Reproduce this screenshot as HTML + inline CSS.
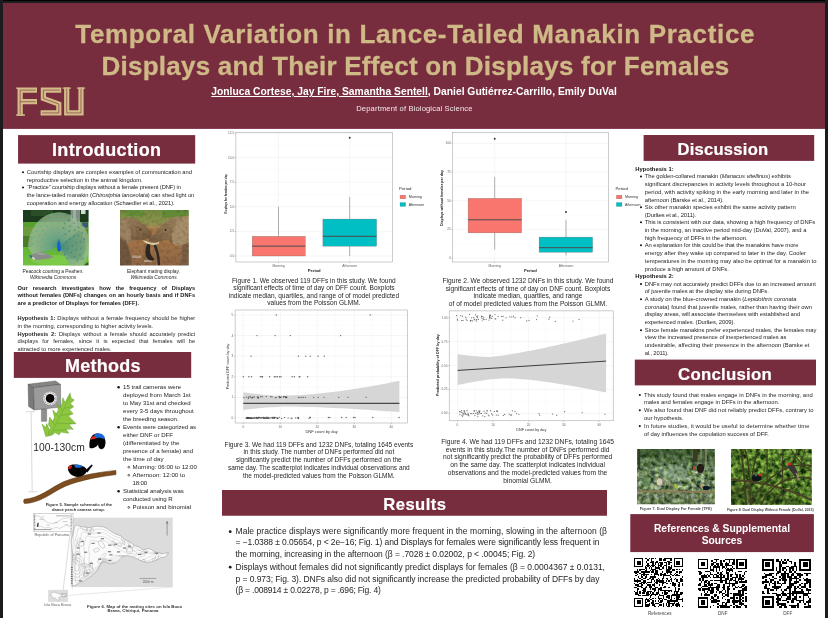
<!DOCTYPE html>
<html><head><meta charset="utf-8"><title>Poster</title>
<style>
html,body{margin:0;padding:0;}
body{width:828px;height:618px;overflow:hidden;background:#fff;font-family:"Liberation Sans",sans-serif;position:relative;}
div{box-sizing:border-box;}
svg{position:absolute;overflow:visible;}
i{font-style:italic;}
b{font-weight:bold;}
</style></head><body><div id="w" style="position:absolute;left:0;top:0;width:828px;height:618px;will-change:transform">
<svg style="left:0;top:0" width="828" height="618" viewBox="0 0 828 618"><rect x="0.00" y="0.00" width="828.00" height="128.90" fill="#782d3f"/><rect x="18.05" y="135.10" width="177.15" height="28.50" fill="#782d3f"/><rect x="13.80" y="352.00" width="177.40" height="25.90" fill="#782d3f"/><rect x="643.60" y="135.00" width="170.60" height="25.90" fill="#782d3f"/><rect x="634.80" y="359.60" width="181.20" height="25.80" fill="#782d3f"/><rect x="222.00" y="490.00" width="385.00" height="25.75" fill="#782d3f"/><rect x="630.30" y="514.10" width="183.60" height="38.00" fill="#782d3f"/><circle cx="23.00" cy="172.20" r="1.05" fill="#1a1a1a"/><circle cx="23.00" cy="187.50" r="1.05" fill="#1a1a1a"/><circle cx="118.60" cy="387.20" r="1.30" fill="#1a1a1a"/><circle cx="118.60" cy="427.20" r="1.30" fill="#1a1a1a"/><circle cx="128.80" cy="467.20" r="0.90" fill="none" stroke="#1a1a1a" stroke-width="0.65"/><circle cx="128.80" cy="475.20" r="0.90" fill="none" stroke="#1a1a1a" stroke-width="0.65"/><circle cx="118.60" cy="491.30" r="1.30" fill="#1a1a1a"/><circle cx="128.80" cy="507.40" r="0.90" fill="none" stroke="#1a1a1a" stroke-width="0.65"/><circle cx="230.20" cy="531.70" r="1.40" fill="#1a1a1a"/><circle cx="230.20" cy="567.20" r="1.40" fill="#1a1a1a"/><circle cx="641.00" cy="176.50" r="1.05" fill="#1a1a1a"/><circle cx="641.00" cy="207.30" r="1.05" fill="#1a1a1a"/><circle cx="641.00" cy="222.20" r="1.05" fill="#1a1a1a"/><circle cx="641.00" cy="245.30" r="1.05" fill="#1a1a1a"/><circle cx="641.00" cy="284.10" r="1.05" fill="#1a1a1a"/><circle cx="641.00" cy="299.20" r="1.05" fill="#1a1a1a"/><circle cx="641.00" cy="330.30" r="1.05" fill="#1a1a1a"/><circle cx="639.80" cy="395.00" r="1.05" fill="#1a1a1a"/><circle cx="639.80" cy="410.30" r="1.05" fill="#1a1a1a"/><circle cx="639.80" cy="426.10" r="1.05" fill="#1a1a1a"/></svg>
<div style="position:absolute;top:19px;font-size:26px;line-height:30px;height:30px;white-space:nowrap;color:#cfb987;letter-spacing:0.657px;font-weight:bold;left:75.30px;-webkit-text-stroke:0.3px #cfb987;">Temporal Variation in Lance-Tailed Manakin Practice</div>
<div style="position:absolute;top:51px;font-size:26px;line-height:30px;height:30px;white-space:nowrap;color:#cfb987;letter-spacing:0.221px;font-weight:bold;left:101.60px;-webkit-text-stroke:0.3px #cfb987;">Displays and Their Effect on Displays for Females</div>
<div style="position:absolute;top:86px;font-size:10.3px;line-height:11px;height:11px;white-space:nowrap;color:#fff;letter-spacing:0.006px;font-weight:bold;left:211.25px;"><span style="text-decoration:underline;text-decoration-thickness:0.8px;text-underline-offset:1.2px">Jonluca Cortese, Jay Fire, Samantha Sentell</span>, Daniel Gutiérrez-Carrillo, Emily DuVal</div>
<div style="position:absolute;top:104px;font-size:7.6px;line-height:9px;height:9px;white-space:nowrap;color:#f3e9ec;letter-spacing:0.139px;left:356.25px;">Department of Biological Science</div>
<svg style="left:16px;top:87px" width="70" height="30" viewBox="0 0 70 30">
<g fill="none" stroke="#d2bc88" stroke-width="5.2" stroke-linejoin="miter" stroke-linecap="butt">
<path d="M4.15 28.7 V3.1 H21 M4.15 14.7 H21"/>
<path d="M45.2 3.1 H27.4 V11.5 L42.8 17 V25.9 H24.6"/>
<path d="M50.7 0.5 V25.9 H65 V0.5"/>
</g>
<g fill="#d2bc88"><path d="M0.2 27.3 H8.9 V28.7 H0.2Z M0.3 0.5 H2 V2 H0.3Z M46.6 0.5 H54.8 V1.8 H46.6Z M60.9 0.5 H69.1 V1.8 H60.9Z"/></g>
<g fill="none" stroke="#8a4048" stroke-width="0.7" stroke-linejoin="miter">
<path d="M4.15 27.6 V3.1 H19.6 M4.15 14.7 H19.6"/>
<path d="M43.8 3.1 H27.4 V11.5 L42.8 17 V25.9 H26"/>
<path d="M50.7 1.6 V25.9 H65 V1.6"/>
</g></svg>
<div style="position:absolute;top:140px;font-size:18px;line-height:20px;height:20px;white-space:nowrap;color:#fff;letter-spacing:0.365px;font-weight:bold;left:52.00px;-webkit-text-stroke:0.2px #fff;">Introduction</div>
<div style="position:absolute;top:356px;font-size:18px;line-height:20px;height:20px;white-space:nowrap;color:#fff;letter-spacing:0.234px;font-weight:bold;left:65.00px;-webkit-text-stroke:0.2px #fff;">Methods</div>
<div style="position:absolute;top:140px;font-size:16.6px;line-height:19px;height:19px;white-space:nowrap;color:#fff;letter-spacing:0.237px;font-weight:bold;left:677.50px;-webkit-text-stroke:0.2px #fff;">Discussion</div>
<div style="position:absolute;top:365px;font-size:16.8px;line-height:19px;height:19px;white-space:nowrap;color:#fff;letter-spacing:0.270px;font-weight:bold;left:678.00px;-webkit-text-stroke:0.2px #fff;">Conclusion</div>
<div style="position:absolute;top:495px;font-size:16.6px;line-height:19px;height:19px;white-space:nowrap;color:#fff;letter-spacing:0.439px;font-weight:bold;left:383.30px;-webkit-text-stroke:0.2px #fff;">Results</div>
<div style="position:absolute;top:523px;font-size:10.3px;line-height:11px;height:11px;white-space:nowrap;color:#fff;font-weight:bold;left:322.00px;width:800px;text-align:center;">References &amp; Supplemental</div>
<div style="position:absolute;top:535px;font-size:10.3px;line-height:11px;height:11px;white-space:nowrap;color:#fff;font-weight:bold;left:322.00px;width:800px;text-align:center;">Sources</div>
<div style="position:absolute;top:169px;font-size:5.8px;line-height:6px;height:6px;white-space:nowrap;color:#1f1f1f;letter-spacing:-0.001px;left:26.80px;">Courtship displays are complex examples of communication and</div>
<div style="position:absolute;top:177px;font-size:5.8px;line-height:6px;height:6px;white-space:nowrap;color:#1f1f1f;letter-spacing:-0.004px;left:26.80px;">reproductive selection in the animal kingdom.</div>
<div style="position:absolute;top:184px;font-size:5.8px;line-height:6px;height:6px;white-space:nowrap;color:#1f1f1f;letter-spacing:-0.106px;left:26.80px;">“Practice” courtship displays without a female present (DNF) in</div>
<div style="position:absolute;top:192px;font-size:5.8px;line-height:6px;height:6px;white-space:nowrap;color:#1f1f1f;letter-spacing:-0.050px;left:26.80px;">the lance-tailed manakin (<i>Chiroxiphia lanceolata</i>) can shed light on</div>
<div style="position:absolute;top:200px;font-size:5.8px;line-height:6px;height:6px;white-space:nowrap;color:#1f1f1f;letter-spacing:-0.045px;left:26.80px;">cooperation and energy allocation (Schaedler et al., 2021).</div>
<div style="position:absolute;top:269px;font-size:4.9px;line-height:5px;height:5px;white-space:nowrap;color:#1f1f1f;left:-347.00px;width:800px;text-align:center;">Peacock courting a Peahen.</div>
<div style="position:absolute;top:275px;font-size:4.9px;line-height:5px;height:5px;white-space:nowrap;color:#1f1f1f;font-style:italic;left:-347.00px;width:800px;text-align:center;">Wikimedia Commons</div>
<div style="position:absolute;top:269px;font-size:4.9px;line-height:5px;height:5px;white-space:nowrap;color:#1f1f1f;left:-246.50px;width:800px;text-align:center;">Elephant mating display.</div>
<div style="position:absolute;top:275px;font-size:4.9px;line-height:5px;height:5px;white-space:nowrap;color:#1f1f1f;font-style:italic;left:-246.50px;width:800px;text-align:center;">Wikimedia Commons</div>
<div style="position:absolute;left:17.60px;top:285px;width:177.60px;font-size:5.7px;line-height:6px;height:6px;white-space:nowrap;color:#151515;font-weight:bold;text-align:justify;text-align-last:justify;white-space:normal;overflow:visible;">Our research investigates how the frequency of Displays</div>
<div style="position:absolute;left:17.60px;top:292px;width:177.60px;font-size:5.7px;line-height:6px;height:6px;white-space:nowrap;color:#151515;font-weight:bold;text-align:justify;text-align-last:justify;white-space:normal;overflow:visible;">without females (DNFs) changes on an hourly basis and if DNFs</div>
<div style="position:absolute;left:17.60px;top:300px;width:177.60px;font-size:5.7px;line-height:6px;height:6px;white-space:nowrap;color:#151515;font-weight:bold;">are a predictor of Displays for females (DFF).</div>
<div style="position:absolute;left:17.60px;top:315px;width:177.60px;font-size:5.7px;line-height:6px;height:6px;white-space:nowrap;color:#1f1f1f;text-align:justify;text-align-last:justify;white-space:normal;overflow:visible;"><b>Hypothesis 1:</b> Displays without a female frequency should be higher</div>
<div style="position:absolute;left:17.60px;top:323px;width:177.60px;font-size:5.7px;line-height:6px;height:6px;white-space:nowrap;color:#1f1f1f;">in the morning, corresponding to higher activity levels.</div>
<div style="position:absolute;left:17.60px;top:331px;width:177.60px;font-size:5.7px;line-height:6px;height:6px;white-space:nowrap;color:#1f1f1f;text-align:justify;text-align-last:justify;white-space:normal;overflow:visible;"><b>Hypothesis 2:</b> Displays without a female should accurately predict</div>
<div style="position:absolute;left:17.60px;top:338px;width:177.60px;font-size:5.7px;line-height:6px;height:6px;white-space:nowrap;color:#1f1f1f;text-align:justify;text-align-last:justify;white-space:normal;overflow:visible;">displays for females, since it is expected that females will be</div>
<div style="position:absolute;left:17.60px;top:346px;width:177.60px;font-size:5.7px;line-height:6px;height:6px;white-space:nowrap;color:#1f1f1f;">attracted to more experienced males.</div>
<div style="position:absolute;top:383px;font-size:6.1px;line-height:7px;height:7px;white-space:nowrap;color:#1f1f1f;letter-spacing:-0.009px;left:123.00px;">15 trail cameras were</div>
<div style="position:absolute;top:391px;font-size:6.1px;line-height:7px;height:7px;white-space:nowrap;color:#1f1f1f;letter-spacing:0.024px;left:123.00px;">deployed from March 1st</div>
<div style="position:absolute;top:399px;font-size:6.1px;line-height:7px;height:7px;white-space:nowrap;color:#1f1f1f;letter-spacing:-0.007px;left:123.00px;">to May 31st and checked</div>
<div style="position:absolute;top:407px;font-size:6.1px;line-height:7px;height:7px;white-space:nowrap;color:#1f1f1f;letter-spacing:-0.008px;left:123.00px;">every 3-5 days throughout</div>
<div style="position:absolute;top:415px;font-size:6.1px;line-height:7px;height:7px;white-space:nowrap;color:#1f1f1f;letter-spacing:-0.071px;left:123.00px;">the breeding season.</div>
<div style="position:absolute;top:423px;font-size:6.1px;line-height:7px;height:7px;white-space:nowrap;color:#1f1f1f;letter-spacing:-0.070px;left:123.00px;">Events were categorized as</div>
<div style="position:absolute;top:431px;font-size:6.1px;line-height:7px;height:7px;white-space:nowrap;color:#1f1f1f;letter-spacing:-0.004px;left:123.00px;">either DNF or DFF</div>
<div style="position:absolute;top:439px;font-size:6.1px;line-height:7px;height:7px;white-space:nowrap;color:#1f1f1f;letter-spacing:0.042px;left:123.00px;">(differentiated by the</div>
<div style="position:absolute;top:447px;font-size:6.1px;line-height:7px;height:7px;white-space:nowrap;color:#1f1f1f;letter-spacing:-0.029px;left:123.00px;">presence of a female) and</div>
<div style="position:absolute;top:455px;font-size:6.1px;line-height:7px;height:7px;white-space:nowrap;color:#1f1f1f;letter-spacing:0.040px;left:123.00px;">the time of day</div>
<div style="position:absolute;top:463px;font-size:6.1px;line-height:7px;height:7px;white-space:nowrap;color:#1f1f1f;letter-spacing:-0.004px;left:132.60px;">Morning: 06:00 to 12:00</div>
<div style="position:absolute;top:471px;font-size:6.1px;line-height:7px;height:7px;white-space:nowrap;color:#1f1f1f;letter-spacing:0.037px;left:132.60px;">Afternoon: 12:00 to</div>
<div style="position:absolute;top:479px;font-size:6.1px;line-height:7px;height:7px;white-space:nowrap;color:#1f1f1f;letter-spacing:-0.150px;left:132.60px;">18:00</div>
<div style="position:absolute;top:487px;font-size:6.1px;line-height:7px;height:7px;white-space:nowrap;color:#1f1f1f;letter-spacing:-0.065px;left:123.00px;">Statistical analysis was</div>
<div style="position:absolute;top:495px;font-size:6.1px;line-height:7px;height:7px;white-space:nowrap;color:#1f1f1f;letter-spacing:-0.058px;left:123.00px;">conducted using R</div>
<div style="position:absolute;top:503px;font-size:6.1px;line-height:7px;height:7px;white-space:nowrap;color:#1f1f1f;letter-spacing:0.031px;left:132.60px;">Poisson and binomial</div>
<div style="position:absolute;top:502px;font-size:4.1px;line-height:5px;height:5px;white-space:nowrap;color:#333;letter-spacing:0.006px;font-weight:bold;left:45.70px;">Figure 5. Sample schematic of the</div>
<div style="position:absolute;top:507px;font-size:4.1px;line-height:5px;height:5px;white-space:nowrap;color:#333;letter-spacing:0.001px;font-weight:bold;left:52.00px;">dance perch camera setup.</div>
<div style="position:absolute;top:604px;font-size:4.3px;line-height:5px;height:5px;white-space:nowrap;color:#333;letter-spacing:0.035px;font-weight:bold;left:87.00px;">Figure 6. Map of the mating sites on Isla Boca</div>
<div style="position:absolute;top:608px;font-size:4.3px;line-height:5px;height:5px;white-space:nowrap;color:#333;letter-spacing:0.070px;font-weight:bold;left:107.50px;">Brava, Chiriqui, Panama</div>
<div style="position:absolute;top:277px;font-size:6.55px;line-height:7px;height:7px;white-space:nowrap;color:#262626;left:-86.10px;width:800px;text-align:center;">Figure 1. We observed 119 DFFs in this study. We found</div>
<div style="position:absolute;top:284px;font-size:6.55px;line-height:7px;height:7px;white-space:nowrap;color:#262626;left:-86.10px;width:800px;text-align:center;">significant effects of time of day on DFF count. Boxplots</div>
<div style="position:absolute;top:292px;font-size:6.55px;line-height:7px;height:7px;white-space:nowrap;color:#262626;left:-86.10px;width:800px;text-align:center;">indicate median, quartiles, and range of of model predicted</div>
<div style="position:absolute;top:299px;font-size:6.55px;line-height:7px;height:7px;white-space:nowrap;color:#262626;left:-86.10px;width:800px;text-align:center;">values from the Poisson GLMM.</div>
<div style="position:absolute;top:277px;font-size:6.65px;line-height:7px;height:7px;white-space:nowrap;color:#262626;left:128.00px;width:800px;text-align:center;">Figure 2. We observed 1232 DNFs in this study. We found</div>
<div style="position:absolute;top:285px;font-size:6.65px;line-height:7px;height:7px;white-space:nowrap;color:#262626;left:128.00px;width:800px;text-align:center;">significant effects of time of day on DNF count. Boxplots</div>
<div style="position:absolute;top:292px;font-size:6.65px;line-height:7px;height:7px;white-space:nowrap;color:#262626;left:128.00px;width:800px;text-align:center;">indicate median, quartiles, and range</div>
<div style="position:absolute;top:300px;font-size:6.65px;line-height:7px;height:7px;white-space:nowrap;color:#262626;left:128.00px;width:800px;text-align:center;">of of model predicted values from the Poisson GLMM.</div>
<div style="position:absolute;top:441px;font-size:6.5px;line-height:7px;height:7px;white-space:nowrap;color:#262626;left:-81.20px;width:800px;text-align:center;">Figure 3. We had 119 DFFs and 1232 DNFs, totaling 1645 events</div>
<div style="position:absolute;top:448px;font-size:6.5px;line-height:7px;height:7px;white-space:nowrap;color:#262626;left:-81.20px;width:800px;text-align:center;">in this study. The number of DNFs performed did not</div>
<div style="position:absolute;top:456px;font-size:6.5px;line-height:7px;height:7px;white-space:nowrap;color:#262626;left:-81.20px;width:800px;text-align:center;">significantly predict the number of DFFs performed on the</div>
<div style="position:absolute;top:464px;font-size:6.5px;line-height:7px;height:7px;white-space:nowrap;color:#262626;left:-81.20px;width:800px;text-align:center;">same day. The scatterplot indicates individual observations and</div>
<div style="position:absolute;top:472px;font-size:6.5px;line-height:7px;height:7px;white-space:nowrap;color:#262626;left:-81.20px;width:800px;text-align:center;">the model-predicted values from the Poisson GLMM.</div>
<div style="position:absolute;top:438px;font-size:6.7px;line-height:7px;height:7px;white-space:nowrap;color:#262626;left:127.60px;width:800px;text-align:center;">Figure 4. We had 119 DFFs and 1232 DNFs, totaling 1645</div>
<div style="position:absolute;top:446px;font-size:6.7px;line-height:7px;height:7px;white-space:nowrap;color:#262626;left:127.60px;width:800px;text-align:center;">events in this study.The number of DNFs performed did</div>
<div style="position:absolute;top:453px;font-size:6.7px;line-height:7px;height:7px;white-space:nowrap;color:#262626;left:127.60px;width:800px;text-align:center;">not significantly predict the probability of DFFs performed</div>
<div style="position:absolute;top:461px;font-size:6.7px;line-height:7px;height:7px;white-space:nowrap;color:#262626;left:127.60px;width:800px;text-align:center;">on the same day. The scatterplot indicates individual</div>
<div style="position:absolute;top:469px;font-size:6.7px;line-height:7px;height:7px;white-space:nowrap;color:#262626;left:127.60px;width:800px;text-align:center;">observations and the model-predicted values from the</div>
<div style="position:absolute;top:477px;font-size:6.7px;line-height:7px;height:7px;white-space:nowrap;color:#262626;left:127.60px;width:800px;text-align:center;">binomial GLMM.</div>
<div style="position:absolute;top:526px;font-size:8.5px;line-height:10px;height:10px;white-space:nowrap;color:#1f1f1f;letter-spacing:0.048px;left:235.50px;">Male practice displays were significantly more frequent in the morning, slowing in the afternoon (β</div>
<div style="position:absolute;top:537px;font-size:8.5px;line-height:10px;height:10px;white-space:nowrap;color:#1f1f1f;letter-spacing:-0.088px;left:235.50px;">= −1.0388 ± 0.05654, p &lt; 2e−16; Fig. 1) and Displays for females were significantly less frequent in</div>
<div style="position:absolute;top:549px;font-size:8.5px;line-height:10px;height:10px;white-space:nowrap;color:#1f1f1f;letter-spacing:-0.064px;left:235.50px;">the morning, increasing in the afternoon (β = .7028 ± 0.02002, p &lt; .00045; Fig. 2)</div>
<div style="position:absolute;top:562px;font-size:8.5px;line-height:10px;height:10px;white-space:nowrap;color:#1f1f1f;letter-spacing:-0.013px;left:235.50px;">Displays without females did not significantly predict displays for females (β = 0.0004367 ± 0.0131,</div>
<div style="position:absolute;top:574px;font-size:8.5px;line-height:10px;height:10px;white-space:nowrap;color:#1f1f1f;letter-spacing:-0.062px;left:235.50px;">p = 0.973; Fig. 3). DNFs also did not significantly increase the predicted probability of DFFs by day</div>
<div style="position:absolute;top:585px;font-size:8.5px;line-height:10px;height:10px;white-space:nowrap;color:#1f1f1f;letter-spacing:-0.187px;left:235.50px;">(β = .008914 ± 0.02278, p = .696; Fig. 4)</div>
<div style="position:absolute;top:166px;font-size:5.85px;line-height:6px;height:6px;white-space:nowrap;color:#111;font-weight:bold;left:635.30px;">Hypothesis 1:</div>
<div style="position:absolute;top:173px;font-size:5.85px;line-height:6px;height:6px;white-space:nowrap;color:#1f1f1f;letter-spacing:-0.071px;left:644.80px;">The golden-collared manakin (<i>Manacus vitellinus</i>) exhibits</div>
<div style="position:absolute;top:181px;font-size:5.85px;line-height:6px;height:6px;white-space:nowrap;color:#1f1f1f;letter-spacing:-0.010px;left:644.80px;">significant discrepancies in activity levels throughout a 10-hour</div>
<div style="position:absolute;top:189px;font-size:5.85px;line-height:6px;height:6px;white-space:nowrap;color:#1f1f1f;letter-spacing:0.026px;left:644.80px;">period, with activity spiking in the early morning and later in the</div>
<div style="position:absolute;top:197px;font-size:5.85px;line-height:6px;height:6px;white-space:nowrap;color:#1f1f1f;letter-spacing:-0.052px;left:644.80px;">afternoon (Barske et al., 2014).</div>
<div style="position:absolute;top:204px;font-size:5.85px;line-height:6px;height:6px;white-space:nowrap;color:#1f1f1f;letter-spacing:-0.014px;left:644.80px;">Six other manakin species exhibit the same activity pattern</div>
<div style="position:absolute;top:212px;font-size:5.85px;line-height:6px;height:6px;white-space:nowrap;color:#1f1f1f;letter-spacing:-0.147px;left:644.80px;">(Durães et al., 2011).</div>
<div style="position:absolute;top:219px;font-size:5.85px;line-height:6px;height:6px;white-space:nowrap;color:#1f1f1f;letter-spacing:-0.032px;left:644.80px;">This is consistent with our data, showing a high frequency of DNFs</div>
<div style="position:absolute;top:227px;font-size:5.85px;line-height:6px;height:6px;white-space:nowrap;color:#1f1f1f;letter-spacing:-0.032px;left:644.80px;">in the morning, an inactive period mid-day (DuVal, 2007), and a</div>
<div style="position:absolute;top:235px;font-size:5.85px;line-height:6px;height:6px;white-space:nowrap;color:#1f1f1f;letter-spacing:-0.048px;left:644.80px;">high frequency of DFFs in the afternoon.</div>
<div style="position:absolute;top:242px;font-size:5.85px;line-height:6px;height:6px;white-space:nowrap;color:#1f1f1f;letter-spacing:-0.083px;left:644.80px;">An explanation for this could be that the manakins have more</div>
<div style="position:absolute;top:250px;font-size:5.85px;line-height:6px;height:6px;white-space:nowrap;color:#1f1f1f;letter-spacing:-0.003px;left:644.80px;">energy after they wake up compared to later in the day. Cooler</div>
<div style="position:absolute;top:258px;font-size:5.85px;line-height:6px;height:6px;white-space:nowrap;color:#1f1f1f;letter-spacing:0.023px;left:644.80px;">temperatures in the morning may also be optimal for a manakin to</div>
<div style="position:absolute;top:266px;font-size:5.85px;line-height:6px;height:6px;white-space:nowrap;color:#1f1f1f;letter-spacing:-0.017px;left:644.80px;">produce a high amount of DNFs.</div>
<div style="position:absolute;top:273px;font-size:5.85px;line-height:6px;height:6px;white-space:nowrap;color:#111;font-weight:bold;left:635.30px;">Hypothesis 2:</div>
<div style="position:absolute;top:281px;font-size:5.85px;line-height:6px;height:6px;white-space:nowrap;color:#1f1f1f;letter-spacing:-0.058px;left:644.80px;">DNFs may not accurately predict DFFs due to an increased amount</div>
<div style="position:absolute;top:288px;font-size:5.85px;line-height:6px;height:6px;white-space:nowrap;color:#1f1f1f;letter-spacing:-0.047px;left:644.80px;">of juvenile males at the display site during DNFs.</div>
<div style="position:absolute;top:296px;font-size:5.85px;line-height:6px;height:6px;white-space:nowrap;color:#1f1f1f;letter-spacing:-0.042px;left:644.80px;">A study on the blue-crowned manakin (<i>Lepidothrix coronata</i></div>
<div style="position:absolute;top:304px;font-size:5.85px;line-height:6px;height:6px;white-space:nowrap;color:#1f1f1f;letter-spacing:0.008px;left:644.80px;"><i>coronata</i>) found that juvenile males, rather than having their own</div>
<div style="position:absolute;top:311px;font-size:5.85px;line-height:6px;height:6px;white-space:nowrap;color:#1f1f1f;letter-spacing:-0.042px;left:644.80px;">display areas, will associate themselves with established and</div>
<div style="position:absolute;top:319px;font-size:5.85px;line-height:6px;height:6px;white-space:nowrap;color:#1f1f1f;letter-spacing:-0.081px;left:644.80px;">experienced males. (Durães, 2009).</div>
<div style="position:absolute;top:327px;font-size:5.85px;line-height:6px;height:6px;white-space:nowrap;color:#1f1f1f;letter-spacing:-0.039px;left:644.80px;">Since female manakins prefer experienced males, the females may</div>
<div style="position:absolute;top:334px;font-size:5.85px;line-height:6px;height:6px;white-space:nowrap;color:#1f1f1f;letter-spacing:-0.038px;left:644.80px;">view the increased presence of inexperienced males as</div>
<div style="position:absolute;top:342px;font-size:5.85px;line-height:6px;height:6px;white-space:nowrap;color:#1f1f1f;letter-spacing:0.001px;left:644.80px;">undesirable, affecting their presence in the afternoon (Barske et</div>
<div style="position:absolute;top:350px;font-size:5.85px;line-height:6px;height:6px;white-space:nowrap;color:#1f1f1f;letter-spacing:-0.175px;left:644.80px;">al., 2011).</div>
<div style="position:absolute;top:392px;font-size:5.85px;line-height:6px;height:6px;white-space:nowrap;color:#1f1f1f;letter-spacing:0.028px;left:644.00px;">This study found that males engage in DNFs in the morning, and</div>
<div style="position:absolute;top:399px;font-size:5.85px;line-height:6px;height:6px;white-space:nowrap;color:#1f1f1f;letter-spacing:-0.016px;left:644.00px;">males and females engage in DFFs in the afternoon.</div>
<div style="position:absolute;top:407px;font-size:5.85px;line-height:6px;height:6px;white-space:nowrap;color:#1f1f1f;letter-spacing:0.030px;left:644.00px;">We also found that DNF did not reliably predict DFFs, contrary to</div>
<div style="position:absolute;top:415px;font-size:5.85px;line-height:6px;height:6px;white-space:nowrap;color:#1f1f1f;letter-spacing:-0.003px;left:644.00px;">our hypothesis.</div>
<div style="position:absolute;top:423px;font-size:5.85px;line-height:6px;height:6px;white-space:nowrap;color:#1f1f1f;letter-spacing:0.101px;left:644.00px;">In future studies, it would be useful to determine whether time</div>
<div style="position:absolute;top:431px;font-size:5.85px;line-height:6px;height:6px;white-space:nowrap;color:#1f1f1f;letter-spacing:-0.006px;left:644.00px;">of day influences the copulation success of DFF.</div>
<div style="position:absolute;top:507px;font-size:3.8px;line-height:4px;height:4px;white-space:nowrap;color:#4a4a4a;letter-spacing:0.005px;font-weight:bold;left:639.80px;">Figure 7. Dual Display For Female (TFE)</div>
<div style="position:absolute;top:508px;font-size:3.5px;line-height:4px;height:4px;white-space:nowrap;color:#4a4a4a;letter-spacing:0.010px;font-weight:bold;left:726.90px;">Figure 8. Dual Display Without Female  (DuVal, 2013)</div>
<div style="position:absolute;top:611px;font-size:4.6px;line-height:5px;height:5px;white-space:nowrap;color:#444;left:259.75px;width:800px;text-align:center;">References</div>
<div style="position:absolute;top:611px;font-size:4.6px;line-height:5px;height:5px;white-space:nowrap;color:#444;left:322.75px;width:800px;text-align:center;">DNF</div>
<div style="position:absolute;top:611px;font-size:4.6px;line-height:5px;height:5px;white-space:nowrap;color:#444;left:387.75px;width:800px;text-align:center;">DFF</div>
<svg style="left:0;top:0" width="828" height="618" viewBox="0 0 828 618" font-family="Liberation Sans, sans-serif"><rect x="235.9" y="132.5" width="156.70" height="129.50" fill="#fff"/><line x1="235.9" x2="392.6" y1="243.69" y2="243.69" stroke="#f3f3f3" stroke-width="0.3"/><line x1="235.9" x2="392.6" y1="219.07" y2="219.07" stroke="#f3f3f3" stroke-width="0.3"/><line x1="235.9" x2="392.6" y1="194.45" y2="194.45" stroke="#f3f3f3" stroke-width="0.3"/><line x1="235.9" x2="392.6" y1="169.83" y2="169.83" stroke="#f3f3f3" stroke-width="0.3"/><line x1="235.9" x2="392.6" y1="145.21" y2="145.21" stroke="#f3f3f3" stroke-width="0.3"/><line x1="235.9" x2="392.6" y1="256.00" y2="256.00" stroke="#ebebeb" stroke-width="0.45"/><line x1="235.9" x2="392.6" y1="231.38" y2="231.38" stroke="#ebebeb" stroke-width="0.45"/><line x1="235.9" x2="392.6" y1="206.76" y2="206.76" stroke="#ebebeb" stroke-width="0.45"/><line x1="235.9" x2="392.6" y1="182.14" y2="182.14" stroke="#ebebeb" stroke-width="0.45"/><line x1="235.9" x2="392.6" y1="157.52" y2="157.52" stroke="#ebebeb" stroke-width="0.45"/><line x1="235.9" x2="392.6" y1="132.90" y2="132.90" stroke="#ebebeb" stroke-width="0.45"/><line y1="132.5" y2="262" x1="278.50" x2="278.50" stroke="#ebebeb" stroke-width="0.45"/><line y1="132.5" y2="262" x1="349.70" x2="349.70" stroke="#ebebeb" stroke-width="0.45"/><line x1="278.50" x2="278.50" y1="206.76" y2="256.00" stroke="#555" stroke-width="0.45"/><rect x="252.20" y="236.30" width="53.10" height="19.70" fill="#f8766d" stroke="#6a6a6a" stroke-width="0.3"/><line x1="252.20" x2="305.30" y1="246.15" y2="246.15" stroke="#4a4a4a" stroke-width="1"/><line x1="349.70" x2="349.70" y1="196.91" y2="256.00" stroke="#555" stroke-width="0.45"/><rect x="322.90" y="219.07" width="53.70" height="27.08" fill="#00bfc4" stroke="#6a6a6a" stroke-width="0.3"/><line x1="322.90" x2="376.60" y1="236.30" y2="236.30" stroke="#4a4a4a" stroke-width="1"/><circle cx="349.70" cy="137.80" r="0.95" fill="#2a2a2a"/><rect x="235.9" y="132.5" width="156.70" height="129.50" fill="none" stroke="#9a9a9a" stroke-width="0.5"/><line x1="234.80" x2="235.90" y1="256.00" y2="256.00" stroke="#777" stroke-width="0.35"/><line x1="234.80" x2="235.90" y1="231.38" y2="231.38" stroke="#777" stroke-width="0.35"/><line x1="234.80" x2="235.90" y1="206.76" y2="206.76" stroke="#777" stroke-width="0.35"/><line x1="234.80" x2="235.90" y1="182.14" y2="182.14" stroke="#777" stroke-width="0.35"/><line x1="234.80" x2="235.90" y1="157.52" y2="157.52" stroke="#777" stroke-width="0.35"/><line x1="234.80" x2="235.90" y1="132.90" y2="132.90" stroke="#777" stroke-width="0.35"/><line x1="278.50" x2="278.50" y1="262.00" y2="263.10" stroke="#777" stroke-width="0.35"/><line x1="349.70" x2="349.70" y1="262.00" y2="263.10" stroke="#777" stroke-width="0.35"/><text x="234.20" y="257.00" font-size="3.2" text-anchor="end" fill="#666">0.0</text><text x="234.20" y="232.38" font-size="3.2" text-anchor="end" fill="#666">2.5</text><text x="234.20" y="207.76" font-size="3.2" text-anchor="end" fill="#666">5.0</text><text x="234.20" y="183.14" font-size="3.2" text-anchor="end" fill="#666">7.5</text><text x="234.20" y="158.52" font-size="3.2" text-anchor="end" fill="#666">10.0</text><text x="234.20" y="133.90" font-size="3.2" text-anchor="end" fill="#666">12.5</text><text x="278.50" y="267.10" font-size="3.4" text-anchor="middle" fill="#666">Morning</text><text x="349.70" y="267.10" font-size="3.4" text-anchor="middle" fill="#666">Afternoon</text><text x="314.20" y="272.30" font-size="4.18" text-anchor="middle" fill="#222" font-weight="bold">Period</text><text x="227.00" y="194.00" font-size="2.95" text-anchor="middle" fill="#222" font-weight="bold" transform="rotate(-90 227.00 194.00)">Displays for females per day</text><text x="399.10" y="190.10" font-size="4.3" text-anchor="start" fill="#2a2a2a">Period</text><rect x="400.00" y="195.10" width="5.7" height="3.8" fill="#f8766d" stroke="#777" stroke-width="0.2"/><rect x="400.00" y="202.50" width="5.7" height="4.0" fill="#00bfc4" stroke="#777" stroke-width="0.2"/><text x="408.70" y="198.20" font-size="3.6" text-anchor="start" fill="#333">Morning</text><text x="408.70" y="205.70" font-size="3.6" text-anchor="start" fill="#333">Afternoon</text><rect x="452.6" y="132.5" width="156.00" height="129.50" fill="#fff"/><line x1="452.6" x2="608.6" y1="243.84" y2="243.84" stroke="#f3f3f3" stroke-width="0.3"/><line x1="452.6" x2="608.6" y1="215.12" y2="215.12" stroke="#f3f3f3" stroke-width="0.3"/><line x1="452.6" x2="608.6" y1="186.40" y2="186.40" stroke="#f3f3f3" stroke-width="0.3"/><line x1="452.6" x2="608.6" y1="157.68" y2="157.68" stroke="#f3f3f3" stroke-width="0.3"/><line x1="452.6" x2="608.6" y1="258.20" y2="258.20" stroke="#ebebeb" stroke-width="0.45"/><line x1="452.6" x2="608.6" y1="229.48" y2="229.48" stroke="#ebebeb" stroke-width="0.45"/><line x1="452.6" x2="608.6" y1="200.76" y2="200.76" stroke="#ebebeb" stroke-width="0.45"/><line x1="452.6" x2="608.6" y1="172.04" y2="172.04" stroke="#ebebeb" stroke-width="0.45"/><line x1="452.6" x2="608.6" y1="143.32" y2="143.32" stroke="#ebebeb" stroke-width="0.45"/><line y1="132.5" y2="262" x1="494.70" x2="494.70" stroke="#ebebeb" stroke-width="0.45"/><line y1="132.5" y2="262" x1="566.00" x2="566.00" stroke="#ebebeb" stroke-width="0.45"/><line x1="494.70" x2="494.70" y1="176.90" y2="249.70" stroke="#555" stroke-width="0.45"/><rect x="468.10" y="198.30" width="53.50" height="34.60" fill="#f8766d" stroke="#6a6a6a" stroke-width="0.3"/><line x1="468.10" x2="521.60" y1="219.80" y2="219.80" stroke="#4a4a4a" stroke-width="1"/><circle cx="494.70" cy="138.80" r="0.95" fill="#2a2a2a"/><line x1="566.00" x2="566.00" y1="219.80" y2="255.50" stroke="#555" stroke-width="0.45"/><rect x="539.10" y="237.10" width="53.50" height="15.10" fill="#00bfc4" stroke="#6a6a6a" stroke-width="0.3"/><line x1="539.10" x2="592.60" y1="247.70" y2="247.70" stroke="#4a4a4a" stroke-width="1"/><circle cx="566.00" cy="212.00" r="0.95" fill="#2a2a2a"/><rect x="452.6" y="132.5" width="156.00" height="129.50" fill="none" stroke="#9a9a9a" stroke-width="0.5"/><line x1="451.50" x2="452.60" y1="258.20" y2="258.20" stroke="#777" stroke-width="0.35"/><line x1="451.50" x2="452.60" y1="229.48" y2="229.48" stroke="#777" stroke-width="0.35"/><line x1="451.50" x2="452.60" y1="200.76" y2="200.76" stroke="#777" stroke-width="0.35"/><line x1="451.50" x2="452.60" y1="172.04" y2="172.04" stroke="#777" stroke-width="0.35"/><line x1="451.50" x2="452.60" y1="143.32" y2="143.32" stroke="#777" stroke-width="0.35"/><line x1="494.70" x2="494.70" y1="262.00" y2="263.10" stroke="#777" stroke-width="0.35"/><line x1="566.00" x2="566.00" y1="262.00" y2="263.10" stroke="#777" stroke-width="0.35"/><text x="450.80" y="259.20" font-size="3.2" text-anchor="end" fill="#666">0</text><text x="450.80" y="230.48" font-size="3.2" text-anchor="end" fill="#666">25</text><text x="450.80" y="201.76" font-size="3.2" text-anchor="end" fill="#666">50</text><text x="450.80" y="173.04" font-size="3.2" text-anchor="end" fill="#666">75</text><text x="450.80" y="144.32" font-size="3.2" text-anchor="end" fill="#666">100</text><text x="494.70" y="267.10" font-size="3.4" text-anchor="middle" fill="#666">Morning</text><text x="566.00" y="267.10" font-size="3.4" text-anchor="middle" fill="#666">Afternoon</text><text x="530.40" y="271.90" font-size="4.18" text-anchor="middle" fill="#222" font-weight="bold">Period</text><text x="442.60" y="198.00" font-size="3.55" text-anchor="middle" fill="#222" font-weight="bold" transform="rotate(-90 442.60 198.00)">Displays without females per day</text><text x="615.40" y="190.10" font-size="4.3" text-anchor="start" fill="#2a2a2a">Period</text><rect x="616.30" y="195.10" width="5.7" height="3.8" fill="#f8766d" stroke="#777" stroke-width="0.2"/><rect x="616.30" y="202.50" width="5.7" height="4.0" fill="#00bfc4" stroke="#777" stroke-width="0.2"/><text x="625.00" y="198.20" font-size="3.6" text-anchor="start" fill="#333">Morning</text><text x="625.00" y="205.70" font-size="3.6" text-anchor="start" fill="#333">Afternoon</text><rect x="235.1" y="310" width="172.60" height="113.00" fill="#fff"/><line x1="235.1" x2="407.7" y1="407.61" y2="407.61" stroke="#f3f3f3" stroke-width="0.3"/><line x1="235.1" x2="407.7" y1="387.03" y2="387.03" stroke="#f3f3f3" stroke-width="0.3"/><line x1="235.1" x2="407.7" y1="366.45" y2="366.45" stroke="#f3f3f3" stroke-width="0.3"/><line x1="235.1" x2="407.7" y1="345.87" y2="345.87" stroke="#f3f3f3" stroke-width="0.3"/><line x1="235.1" x2="407.7" y1="325.29" y2="325.29" stroke="#f3f3f3" stroke-width="0.3"/><line y1="310" y2="423" x1="261.80" x2="261.80" stroke="#f3f3f3" stroke-width="0.3"/><line y1="310" y2="423" x1="298.80" x2="298.80" stroke="#f3f3f3" stroke-width="0.3"/><line y1="310" y2="423" x1="335.80" x2="335.80" stroke="#f3f3f3" stroke-width="0.3"/><line y1="310" y2="423" x1="372.80" x2="372.80" stroke="#f3f3f3" stroke-width="0.3"/><line x1="235.1" x2="407.7" y1="417.90" y2="417.90" stroke="#ebebeb" stroke-width="0.45"/><line x1="235.1" x2="407.7" y1="397.32" y2="397.32" stroke="#ebebeb" stroke-width="0.45"/><line x1="235.1" x2="407.7" y1="376.74" y2="376.74" stroke="#ebebeb" stroke-width="0.45"/><line x1="235.1" x2="407.7" y1="356.16" y2="356.16" stroke="#ebebeb" stroke-width="0.45"/><line x1="235.1" x2="407.7" y1="335.58" y2="335.58" stroke="#ebebeb" stroke-width="0.45"/><line x1="235.1" x2="407.7" y1="315.00" y2="315.00" stroke="#ebebeb" stroke-width="0.45"/><line y1="310" y2="423" x1="243.30" x2="243.30" stroke="#ebebeb" stroke-width="0.45"/><line y1="310" y2="423" x1="280.30" x2="280.30" stroke="#ebebeb" stroke-width="0.45"/><line y1="310" y2="423" x1="317.30" x2="317.30" stroke="#ebebeb" stroke-width="0.45"/><line y1="310" y2="423" x1="354.30" x2="354.30" stroke="#ebebeb" stroke-width="0.45"/><line y1="310" y2="423" x1="391.30" x2="391.30" stroke="#ebebeb" stroke-width="0.45"/><path d="M243.30 392.30 L249.80 393.22 L256.31 394.06 L262.81 394.78 L269.32 395.32 L275.82 395.63 L282.32 395.69 L288.83 395.54 L295.33 395.28 L301.84 394.91 L308.34 394.44 L314.85 393.90 L321.35 393.28 L327.85 392.58 L334.36 391.81 L340.86 390.98 L347.37 390.08 L353.87 389.11 L360.38 388.09 L366.88 387.00 L373.38 385.85 L379.89 384.65 L386.39 383.39 L392.90 382.07 L399.40 380.70 L399.40 412.10 L392.90 411.61 L386.39 411.13 L379.89 410.67 L373.38 410.22 L366.88 409.80 L360.38 409.39 L353.87 408.99 L347.37 408.62 L340.86 408.27 L334.36 407.94 L327.85 407.64 L321.35 407.36 L314.85 407.10 L308.34 406.88 L301.84 406.70 L295.33 406.56 L288.83 406.50 L282.32 406.62 L275.82 406.88 L269.32 407.30 L262.81 407.83 L256.31 408.46 L249.80 409.16 L243.30 409.90Z" fill="#d2d2d2" fill-opacity="0.92"/><line x1="243.3" x2="399.4" y1="403.4" y2="403.4" stroke="#474747" stroke-width="1.25"/><circle cx="256.68" cy="418.33" r="0.68" fill="#444" fill-opacity="0.8"/><circle cx="267.21" cy="418.43" r="0.68" fill="#444" fill-opacity="0.8"/><circle cx="263.51" cy="418.07" r="0.68" fill="#444" fill-opacity="0.8"/><circle cx="248.13" cy="417.89" r="0.68" fill="#444" fill-opacity="0.8"/><circle cx="247.47" cy="417.98" r="0.68" fill="#444" fill-opacity="0.8"/><circle cx="248.51" cy="418.41" r="0.68" fill="#444" fill-opacity="0.8"/><circle cx="259.93" cy="417.50" r="0.68" fill="#444" fill-opacity="0.8"/><circle cx="250.25" cy="418.24" r="0.68" fill="#444" fill-opacity="0.8"/><circle cx="266.46" cy="417.35" r="0.68" fill="#444" fill-opacity="0.8"/><circle cx="264.84" cy="418.03" r="0.68" fill="#444" fill-opacity="0.8"/><circle cx="277.69" cy="418.46" r="0.68" fill="#444" fill-opacity="0.8"/><circle cx="273.89" cy="418.16" r="0.68" fill="#444" fill-opacity="0.8"/><circle cx="250.90" cy="418.37" r="0.68" fill="#444" fill-opacity="0.8"/><circle cx="256.19" cy="417.51" r="0.68" fill="#444" fill-opacity="0.8"/><circle cx="252.08" cy="417.80" r="0.68" fill="#444" fill-opacity="0.8"/><circle cx="266.83" cy="418.06" r="0.68" fill="#444" fill-opacity="0.8"/><circle cx="263.89" cy="418.44" r="0.68" fill="#444" fill-opacity="0.8"/><circle cx="248.18" cy="418.26" r="0.68" fill="#444" fill-opacity="0.8"/><circle cx="268.16" cy="417.99" r="0.68" fill="#444" fill-opacity="0.8"/><circle cx="256.37" cy="417.79" r="0.68" fill="#444" fill-opacity="0.8"/><circle cx="260.85" cy="418.15" r="0.68" fill="#444" fill-opacity="0.8"/><circle cx="271.83" cy="417.65" r="0.68" fill="#444" fill-opacity="0.8"/><circle cx="254.12" cy="417.81" r="0.68" fill="#444" fill-opacity="0.8"/><circle cx="263.17" cy="417.44" r="0.68" fill="#444" fill-opacity="0.8"/><circle cx="269.74" cy="418.16" r="0.68" fill="#444" fill-opacity="0.8"/><circle cx="277.81" cy="418.37" r="0.68" fill="#444" fill-opacity="0.8"/><circle cx="259.72" cy="417.58" r="0.68" fill="#444" fill-opacity="0.8"/><circle cx="251.15" cy="417.91" r="0.68" fill="#444" fill-opacity="0.8"/><circle cx="247.52" cy="417.69" r="0.68" fill="#444" fill-opacity="0.8"/><circle cx="270.87" cy="417.81" r="0.68" fill="#444" fill-opacity="0.8"/><circle cx="274.44" cy="418.13" r="0.68" fill="#444" fill-opacity="0.8"/><circle cx="268.64" cy="417.78" r="0.68" fill="#444" fill-opacity="0.8"/><circle cx="264.93" cy="417.95" r="0.68" fill="#444" fill-opacity="0.8"/><circle cx="273.30" cy="417.35" r="0.68" fill="#444" fill-opacity="0.8"/><circle cx="261.52" cy="417.70" r="0.68" fill="#444" fill-opacity="0.8"/><circle cx="248.21" cy="417.65" r="0.68" fill="#444" fill-opacity="0.8"/><circle cx="267.09" cy="417.29" r="0.68" fill="#444" fill-opacity="0.8"/><circle cx="272.72" cy="418.17" r="0.68" fill="#444" fill-opacity="0.8"/><circle cx="258.68" cy="417.69" r="0.68" fill="#444" fill-opacity="0.8"/><circle cx="246.99" cy="417.95" r="0.68" fill="#444" fill-opacity="0.8"/><circle cx="251.67" cy="418.37" r="0.68" fill="#444" fill-opacity="0.8"/><circle cx="248.16" cy="417.57" r="0.68" fill="#444" fill-opacity="0.8"/><circle cx="250.42" cy="418.21" r="0.68" fill="#444" fill-opacity="0.8"/><circle cx="258.84" cy="417.44" r="0.68" fill="#444" fill-opacity="0.8"/><circle cx="248.85" cy="417.96" r="0.68" fill="#444" fill-opacity="0.8"/><circle cx="263.95" cy="417.43" r="0.68" fill="#444" fill-opacity="0.8"/><circle cx="272.63" cy="417.45" r="0.68" fill="#444" fill-opacity="0.8"/><circle cx="255.22" cy="418.00" r="0.68" fill="#444" fill-opacity="0.8"/><circle cx="257.81" cy="417.43" r="0.68" fill="#444" fill-opacity="0.8"/><circle cx="277.09" cy="418.33" r="0.68" fill="#444" fill-opacity="0.8"/><circle cx="251.93" cy="418.23" r="0.68" fill="#444" fill-opacity="0.8"/><circle cx="253.77" cy="417.92" r="0.68" fill="#444" fill-opacity="0.8"/><circle cx="265.22" cy="418.19" r="0.68" fill="#444" fill-opacity="0.8"/><circle cx="246.39" cy="418.00" r="0.68" fill="#444" fill-opacity="0.8"/><circle cx="258.15" cy="417.82" r="0.68" fill="#444" fill-opacity="0.8"/><circle cx="276.94" cy="417.66" r="0.68" fill="#444" fill-opacity="0.8"/><circle cx="262.85" cy="417.75" r="0.68" fill="#444" fill-opacity="0.8"/><circle cx="268.03" cy="418.45" r="0.68" fill="#444" fill-opacity="0.8"/><circle cx="275.22" cy="417.55" r="0.68" fill="#444" fill-opacity="0.8"/><circle cx="274.41" cy="417.53" r="0.68" fill="#444" fill-opacity="0.8"/><circle cx="258.89" cy="418.02" r="0.68" fill="#444" fill-opacity="0.8"/><circle cx="249.59" cy="417.73" r="0.68" fill="#444" fill-opacity="0.8"/><circle cx="248.26" cy="418.43" r="0.68" fill="#444" fill-opacity="0.8"/><circle cx="252.98" cy="418.32" r="0.68" fill="#444" fill-opacity="0.8"/><circle cx="257.21" cy="418.45" r="0.68" fill="#444" fill-opacity="0.8"/><circle cx="246.27" cy="418.33" r="0.68" fill="#444" fill-opacity="0.8"/><circle cx="249.53" cy="418.07" r="0.68" fill="#444" fill-opacity="0.8"/><circle cx="247.08" cy="417.44" r="0.68" fill="#444" fill-opacity="0.8"/><circle cx="266.03" cy="418.33" r="0.68" fill="#444" fill-opacity="0.8"/><circle cx="254.38" cy="418.09" r="0.68" fill="#444" fill-opacity="0.8"/><circle cx="291.92" cy="418.37" r="0.68" fill="#444" fill-opacity="0.8"/><circle cx="309.86" cy="417.29" r="0.68" fill="#444" fill-opacity="0.8"/><circle cx="295.69" cy="417.92" r="0.68" fill="#444" fill-opacity="0.8"/><circle cx="281.63" cy="418.39" r="0.68" fill="#444" fill-opacity="0.8"/><circle cx="291.13" cy="418.19" r="0.68" fill="#444" fill-opacity="0.8"/><circle cx="309.12" cy="418.32" r="0.68" fill="#444" fill-opacity="0.8"/><circle cx="279.30" cy="417.34" r="0.68" fill="#444" fill-opacity="0.8"/><circle cx="298.00" cy="418.34" r="0.68" fill="#444" fill-opacity="0.8"/><circle cx="298.55" cy="418.48" r="0.68" fill="#444" fill-opacity="0.8"/><circle cx="297.99" cy="417.31" r="0.68" fill="#444" fill-opacity="0.8"/><circle cx="310.39" cy="417.66" r="0.68" fill="#444" fill-opacity="0.8"/><circle cx="288.11" cy="418.06" r="0.68" fill="#444" fill-opacity="0.8"/><circle cx="284.63" cy="417.56" r="0.68" fill="#444" fill-opacity="0.8"/><circle cx="298.16" cy="417.56" r="0.68" fill="#444" fill-opacity="0.8"/><circle cx="328.40" cy="417.49" r="0.68" fill="#444" fill-opacity="0.8"/><circle cx="329.88" cy="417.49" r="0.68" fill="#444" fill-opacity="0.8"/><circle cx="341.72" cy="417.49" r="0.68" fill="#444" fill-opacity="0.8"/><circle cx="346.16" cy="417.49" r="0.68" fill="#444" fill-opacity="0.8"/><circle cx="353.56" cy="417.49" r="0.68" fill="#444" fill-opacity="0.8"/><circle cx="355.04" cy="417.49" r="0.68" fill="#444" fill-opacity="0.8"/><circle cx="372.80" cy="417.49" r="0.68" fill="#444" fill-opacity="0.8"/><circle cx="399.07" cy="417.49" r="0.68" fill="#444" fill-opacity="0.8"/><circle cx="257.44" cy="397.78" r="0.68" fill="#444" fill-opacity="0.8"/><circle cx="279.19" cy="396.52" r="0.68" fill="#444" fill-opacity="0.8"/><circle cx="281.05" cy="396.82" r="0.68" fill="#444" fill-opacity="0.8"/><circle cx="279.50" cy="396.93" r="0.68" fill="#444" fill-opacity="0.8"/><circle cx="252.80" cy="397.29" r="0.68" fill="#444" fill-opacity="0.8"/><circle cx="258.61" cy="398.10" r="0.68" fill="#444" fill-opacity="0.8"/><circle cx="243.82" cy="397.68" r="0.68" fill="#444" fill-opacity="0.8"/><circle cx="254.26" cy="397.00" r="0.68" fill="#444" fill-opacity="0.8"/><circle cx="285.74" cy="397.41" r="0.68" fill="#444" fill-opacity="0.8"/><circle cx="284.86" cy="396.52" r="0.68" fill="#444" fill-opacity="0.8"/><circle cx="285.67" cy="397.54" r="0.68" fill="#444" fill-opacity="0.8"/><circle cx="252.51" cy="397.77" r="0.68" fill="#444" fill-opacity="0.8"/><circle cx="251.44" cy="397.81" r="0.68" fill="#444" fill-opacity="0.8"/><circle cx="270.73" cy="396.66" r="0.68" fill="#444" fill-opacity="0.8"/><circle cx="280.50" cy="397.35" r="0.68" fill="#444" fill-opacity="0.8"/><circle cx="272.04" cy="396.83" r="0.68" fill="#444" fill-opacity="0.8"/><circle cx="246.39" cy="397.06" r="0.68" fill="#444" fill-opacity="0.8"/><circle cx="283.63" cy="396.86" r="0.68" fill="#444" fill-opacity="0.8"/><circle cx="276.42" cy="397.36" r="0.68" fill="#444" fill-opacity="0.8"/><circle cx="250.62" cy="396.84" r="0.68" fill="#444" fill-opacity="0.8"/><circle cx="257.57" cy="396.82" r="0.68" fill="#444" fill-opacity="0.8"/><circle cx="286.42" cy="397.49" r="0.68" fill="#444" fill-opacity="0.8"/><circle cx="260.68" cy="396.58" r="0.68" fill="#444" fill-opacity="0.8"/><circle cx="275.28" cy="397.86" r="0.68" fill="#444" fill-opacity="0.8"/><circle cx="248.29" cy="397.89" r="0.68" fill="#444" fill-opacity="0.8"/><circle cx="283.41" cy="396.82" r="0.68" fill="#444" fill-opacity="0.8"/><circle cx="249.16" cy="396.78" r="0.68" fill="#444" fill-opacity="0.8"/><circle cx="286.81" cy="397.06" r="0.68" fill="#444" fill-opacity="0.8"/><circle cx="258.38" cy="397.24" r="0.68" fill="#444" fill-opacity="0.8"/><circle cx="248.47" cy="398.12" r="0.68" fill="#444" fill-opacity="0.8"/><circle cx="286.39" cy="397.07" r="0.68" fill="#444" fill-opacity="0.8"/><circle cx="266.33" cy="396.61" r="0.68" fill="#444" fill-opacity="0.8"/><circle cx="262.14" cy="396.71" r="0.68" fill="#444" fill-opacity="0.8"/><circle cx="279.85" cy="397.80" r="0.68" fill="#444" fill-opacity="0.8"/><circle cx="298.43" cy="397.32" r="0.68" fill="#444" fill-opacity="0.8"/><circle cx="299.91" cy="397.32" r="0.68" fill="#444" fill-opacity="0.8"/><circle cx="301.76" cy="397.32" r="0.68" fill="#444" fill-opacity="0.8"/><circle cx="303.24" cy="397.32" r="0.68" fill="#444" fill-opacity="0.8"/><circle cx="305.46" cy="397.32" r="0.68" fill="#444" fill-opacity="0.8"/><circle cx="313.60" cy="397.32" r="0.68" fill="#444" fill-opacity="0.8"/><circle cx="318.04" cy="397.32" r="0.68" fill="#444" fill-opacity="0.8"/><circle cx="323.96" cy="397.32" r="0.68" fill="#444" fill-opacity="0.8"/><circle cx="338.76" cy="397.32" r="0.68" fill="#444" fill-opacity="0.8"/><circle cx="348.01" cy="397.32" r="0.68" fill="#444" fill-opacity="0.8"/><circle cx="366.14" cy="397.32" r="0.68" fill="#444" fill-opacity="0.8"/><circle cx="243.30" cy="376.74" r="0.68" fill="#444" fill-opacity="0.8"/><circle cx="248.85" cy="376.74" r="0.68" fill="#444" fill-opacity="0.8"/><circle cx="251.44" cy="376.74" r="0.68" fill="#444" fill-opacity="0.8"/><circle cx="260.32" cy="376.74" r="0.68" fill="#444" fill-opacity="0.8"/><circle cx="261.80" cy="376.74" r="0.68" fill="#444" fill-opacity="0.8"/><circle cx="262.54" cy="376.74" r="0.68" fill="#444" fill-opacity="0.8"/><circle cx="269.57" cy="376.74" r="0.68" fill="#444" fill-opacity="0.8"/><circle cx="274.38" cy="376.74" r="0.68" fill="#444" fill-opacity="0.8"/><circle cx="275.86" cy="376.74" r="0.68" fill="#444" fill-opacity="0.8"/><circle cx="277.34" cy="376.74" r="0.68" fill="#444" fill-opacity="0.8"/><circle cx="279.56" cy="376.74" r="0.68" fill="#444" fill-opacity="0.8"/><circle cx="281.04" cy="376.74" r="0.68" fill="#444" fill-opacity="0.8"/><circle cx="292.14" cy="376.74" r="0.68" fill="#444" fill-opacity="0.8"/><circle cx="294.36" cy="376.74" r="0.68" fill="#444" fill-opacity="0.8"/><circle cx="299.17" cy="376.74" r="0.68" fill="#444" fill-opacity="0.8"/><circle cx="299.91" cy="376.74" r="0.68" fill="#444" fill-opacity="0.8"/><circle cx="307.68" cy="376.74" r="0.68" fill="#444" fill-opacity="0.8"/><circle cx="251.07" cy="356.16" r="0.68" fill="#444" fill-opacity="0.8"/><circle cx="298.43" cy="356.16" r="0.68" fill="#444" fill-opacity="0.8"/><circle cx="305.83" cy="356.16" r="0.68" fill="#444" fill-opacity="0.8"/><circle cx="310.27" cy="356.16" r="0.68" fill="#444" fill-opacity="0.8"/><circle cx="318.04" cy="356.16" r="0.68" fill="#444" fill-opacity="0.8"/><circle cx="324.33" cy="356.16" r="0.68" fill="#444" fill-opacity="0.8"/><circle cx="256.99" cy="335.58" r="0.68" fill="#444" fill-opacity="0.8"/><circle cx="275.12" cy="335.58" r="0.68" fill="#444" fill-opacity="0.8"/><circle cx="290.29" cy="335.58" r="0.68" fill="#444" fill-opacity="0.8"/><circle cx="340.61" cy="335.58" r="0.68" fill="#444" fill-opacity="0.8"/><circle cx="276.23" cy="315.00" r="0.68" fill="#444" fill-opacity="0.8"/><circle cx="370.21" cy="315.00" r="0.68" fill="#444" fill-opacity="0.8"/><rect x="235.1" y="310" width="172.60" height="113.00" fill="none" stroke="#9a9a9a" stroke-width="0.5"/><line x1="234.00" x2="235.10" y1="417.90" y2="417.90" stroke="#777" stroke-width="0.35"/><line x1="234.00" x2="235.10" y1="397.32" y2="397.32" stroke="#777" stroke-width="0.35"/><line x1="234.00" x2="235.10" y1="376.74" y2="376.74" stroke="#777" stroke-width="0.35"/><line x1="234.00" x2="235.10" y1="356.16" y2="356.16" stroke="#777" stroke-width="0.35"/><line x1="234.00" x2="235.10" y1="335.58" y2="335.58" stroke="#777" stroke-width="0.35"/><line x1="234.00" x2="235.10" y1="315.00" y2="315.00" stroke="#777" stroke-width="0.35"/><line x1="243.30" x2="243.30" y1="423.00" y2="424.10" stroke="#777" stroke-width="0.35"/><line x1="280.30" x2="280.30" y1="423.00" y2="424.10" stroke="#777" stroke-width="0.35"/><line x1="317.30" x2="317.30" y1="423.00" y2="424.10" stroke="#777" stroke-width="0.35"/><line x1="354.30" x2="354.30" y1="423.00" y2="424.10" stroke="#777" stroke-width="0.35"/><line x1="391.30" x2="391.30" y1="423.00" y2="424.10" stroke="#777" stroke-width="0.35"/><text x="233.30" y="418.90" font-size="3.2" text-anchor="end" fill="#666">0</text><text x="233.30" y="398.32" font-size="3.2" text-anchor="end" fill="#666">1</text><text x="233.30" y="377.74" font-size="3.2" text-anchor="end" fill="#666">2</text><text x="233.30" y="357.16" font-size="3.2" text-anchor="end" fill="#666">3</text><text x="233.30" y="336.58" font-size="3.2" text-anchor="end" fill="#666">4</text><text x="233.30" y="316.00" font-size="3.2" text-anchor="end" fill="#666">5</text><text x="243.30" y="427.90" font-size="3.2" text-anchor="middle" fill="#666">0</text><text x="280.30" y="427.90" font-size="3.2" text-anchor="middle" fill="#666">10</text><text x="317.30" y="427.90" font-size="3.2" text-anchor="middle" fill="#666">20</text><text x="354.30" y="427.90" font-size="3.2" text-anchor="middle" fill="#666">30</text><text x="391.30" y="427.90" font-size="3.2" text-anchor="middle" fill="#666">40</text><text x="321.60" y="432.90" font-size="4.05" text-anchor="middle" fill="#333">DNF count by day</text><text x="228.70" y="366.50" font-size="3.69" text-anchor="middle" fill="#333" transform="rotate(-90 228.70 366.50)">Predicted DFF count by day</text><rect x="449.2" y="310.9" width="164.00" height="109.90" fill="#fff"/><line x1="449.2" x2="613.2" y1="401.35" y2="401.35" stroke="#f3f3f3" stroke-width="0.3"/><line x1="449.2" x2="613.2" y1="377.45" y2="377.45" stroke="#f3f3f3" stroke-width="0.3"/><line x1="449.2" x2="613.2" y1="353.55" y2="353.55" stroke="#f3f3f3" stroke-width="0.3"/><line x1="449.2" x2="613.2" y1="329.65" y2="329.65" stroke="#f3f3f3" stroke-width="0.3"/><line y1="310.9" y2="420.8" x1="475.23" x2="475.23" stroke="#f3f3f3" stroke-width="0.3"/><line y1="310.9" y2="420.8" x1="510.68" x2="510.68" stroke="#f3f3f3" stroke-width="0.3"/><line y1="310.9" y2="420.8" x1="546.12" x2="546.12" stroke="#f3f3f3" stroke-width="0.3"/><line y1="310.9" y2="420.8" x1="581.58" x2="581.58" stroke="#f3f3f3" stroke-width="0.3"/><line x1="449.2" x2="613.2" y1="413.30" y2="413.30" stroke="#ebebeb" stroke-width="0.45"/><line x1="449.2" x2="613.2" y1="389.40" y2="389.40" stroke="#ebebeb" stroke-width="0.45"/><line x1="449.2" x2="613.2" y1="365.50" y2="365.50" stroke="#ebebeb" stroke-width="0.45"/><line x1="449.2" x2="613.2" y1="341.60" y2="341.60" stroke="#ebebeb" stroke-width="0.45"/><line x1="449.2" x2="613.2" y1="317.70" y2="317.70" stroke="#ebebeb" stroke-width="0.45"/><line y1="310.9" y2="420.8" x1="457.50" x2="457.50" stroke="#ebebeb" stroke-width="0.45"/><line y1="310.9" y2="420.8" x1="492.95" x2="492.95" stroke="#ebebeb" stroke-width="0.45"/><line y1="310.9" y2="420.8" x1="528.40" x2="528.40" stroke="#ebebeb" stroke-width="0.45"/><line y1="310.9" y2="420.8" x1="563.85" x2="563.85" stroke="#ebebeb" stroke-width="0.45"/><line y1="310.9" y2="420.8" x1="599.30" x2="599.30" stroke="#ebebeb" stroke-width="0.45"/><path d="M457.60 354.30 L463.79 355.06 L469.98 355.76 L476.16 356.32 L482.35 356.71 L488.54 356.89 L494.73 356.50 L500.91 355.72 L507.10 354.80 L513.29 353.80 L519.48 352.72 L525.66 351.58 L531.85 350.40 L538.04 349.17 L544.23 347.90 L550.41 346.59 L556.60 345.24 L562.79 343.87 L568.98 342.46 L575.16 341.03 L581.35 339.57 L587.54 338.09 L593.73 336.58 L599.91 335.05 L606.10 333.50 L606.10 392.50 L599.91 391.24 L593.73 390.02 L587.54 388.83 L581.35 387.68 L575.16 386.57 L568.98 385.50 L562.79 384.47 L556.60 383.49 L550.41 382.56 L544.23 381.68 L538.04 380.87 L531.85 380.12 L525.66 379.46 L519.48 378.89 L513.29 378.45 L507.10 378.32 L500.91 378.52 L494.73 378.95 L488.54 379.59 L482.35 380.41 L476.16 381.39 L469.98 382.49 L463.79 383.67 L457.60 384.90Z" fill="#d2d2d2" fill-opacity="0.92"/><line x1="457.6" x2="606.1" y1="370.4" y2="361.1" stroke="#3c3c3c" stroke-width="1.0"/><circle cx="468.20" cy="414.83" r="0.62" fill="#444" fill-opacity="0.75"/><circle cx="467.80" cy="413.00" r="0.62" fill="#444" fill-opacity="0.75"/><circle cx="468.47" cy="414.04" r="0.62" fill="#444" fill-opacity="0.75"/><circle cx="463.92" cy="410.99" r="0.62" fill="#444" fill-opacity="0.75"/><circle cx="471.81" cy="413.80" r="0.62" fill="#444" fill-opacity="0.75"/><circle cx="479.95" cy="411.03" r="0.62" fill="#444" fill-opacity="0.75"/><circle cx="474.18" cy="410.94" r="0.62" fill="#444" fill-opacity="0.75"/><circle cx="477.06" cy="413.34" r="0.62" fill="#444" fill-opacity="0.75"/><circle cx="477.83" cy="416.53" r="0.62" fill="#444" fill-opacity="0.75"/><circle cx="474.87" cy="415.51" r="0.62" fill="#444" fill-opacity="0.75"/><circle cx="459.41" cy="411.68" r="0.62" fill="#444" fill-opacity="0.75"/><circle cx="465.38" cy="413.70" r="0.62" fill="#444" fill-opacity="0.75"/><circle cx="484.98" cy="413.19" r="0.62" fill="#444" fill-opacity="0.75"/><circle cx="470.83" cy="413.42" r="0.62" fill="#444" fill-opacity="0.75"/><circle cx="478.96" cy="411.77" r="0.62" fill="#444" fill-opacity="0.75"/><circle cx="463.03" cy="413.16" r="0.62" fill="#444" fill-opacity="0.75"/><circle cx="468.08" cy="414.93" r="0.62" fill="#444" fill-opacity="0.75"/><circle cx="486.65" cy="413.49" r="0.62" fill="#444" fill-opacity="0.75"/><circle cx="479.19" cy="411.92" r="0.62" fill="#444" fill-opacity="0.75"/><circle cx="491.62" cy="413.89" r="0.62" fill="#444" fill-opacity="0.75"/><circle cx="480.99" cy="413.50" r="0.62" fill="#444" fill-opacity="0.75"/><circle cx="477.43" cy="412.34" r="0.62" fill="#444" fill-opacity="0.75"/><circle cx="475.31" cy="413.33" r="0.62" fill="#444" fill-opacity="0.75"/><circle cx="476.22" cy="410.80" r="0.62" fill="#444" fill-opacity="0.75"/><circle cx="484.06" cy="411.20" r="0.62" fill="#444" fill-opacity="0.75"/><circle cx="492.67" cy="415.03" r="0.62" fill="#444" fill-opacity="0.75"/><circle cx="479.11" cy="410.78" r="0.62" fill="#444" fill-opacity="0.75"/><circle cx="489.05" cy="415.79" r="0.62" fill="#444" fill-opacity="0.75"/><circle cx="463.58" cy="413.90" r="0.62" fill="#444" fill-opacity="0.75"/><circle cx="461.84" cy="415.15" r="0.62" fill="#444" fill-opacity="0.75"/><circle cx="461.86" cy="412.49" r="0.62" fill="#444" fill-opacity="0.75"/><circle cx="487.06" cy="411.07" r="0.62" fill="#444" fill-opacity="0.75"/><circle cx="464.75" cy="412.20" r="0.62" fill="#444" fill-opacity="0.75"/><circle cx="482.68" cy="415.76" r="0.62" fill="#444" fill-opacity="0.75"/><circle cx="490.57" cy="410.63" r="0.62" fill="#444" fill-opacity="0.75"/><circle cx="467.06" cy="410.73" r="0.62" fill="#444" fill-opacity="0.75"/><circle cx="473.39" cy="413.62" r="0.62" fill="#444" fill-opacity="0.75"/><circle cx="494.36" cy="411.47" r="0.62" fill="#444" fill-opacity="0.75"/><circle cx="465.00" cy="413.96" r="0.62" fill="#444" fill-opacity="0.75"/><circle cx="477.55" cy="414.54" r="0.62" fill="#444" fill-opacity="0.75"/><circle cx="466.21" cy="414.67" r="0.62" fill="#444" fill-opacity="0.75"/><circle cx="484.87" cy="416.52" r="0.62" fill="#444" fill-opacity="0.75"/><circle cx="478.91" cy="413.91" r="0.62" fill="#444" fill-opacity="0.75"/><circle cx="459.91" cy="414.59" r="0.62" fill="#444" fill-opacity="0.75"/><circle cx="481.39" cy="413.46" r="0.62" fill="#444" fill-opacity="0.75"/><circle cx="461.55" cy="410.52" r="0.62" fill="#444" fill-opacity="0.75"/><circle cx="487.22" cy="410.61" r="0.62" fill="#444" fill-opacity="0.75"/><circle cx="462.99" cy="415.00" r="0.62" fill="#444" fill-opacity="0.75"/><circle cx="460.68" cy="411.81" r="0.62" fill="#444" fill-opacity="0.75"/><circle cx="468.86" cy="415.84" r="0.62" fill="#444" fill-opacity="0.75"/><circle cx="474.24" cy="410.98" r="0.62" fill="#444" fill-opacity="0.75"/><circle cx="488.31" cy="415.04" r="0.62" fill="#444" fill-opacity="0.75"/><circle cx="464.57" cy="410.93" r="0.62" fill="#444" fill-opacity="0.75"/><circle cx="479.50" cy="412.29" r="0.62" fill="#444" fill-opacity="0.75"/><circle cx="462.44" cy="416.29" r="0.62" fill="#444" fill-opacity="0.75"/><circle cx="516.68" cy="413.73" r="0.62" fill="#444" fill-opacity="0.75"/><circle cx="497.03" cy="410.79" r="0.62" fill="#444" fill-opacity="0.75"/><circle cx="514.96" cy="411.57" r="0.62" fill="#444" fill-opacity="0.75"/><circle cx="497.39" cy="411.26" r="0.62" fill="#444" fill-opacity="0.75"/><circle cx="496.85" cy="411.22" r="0.62" fill="#444" fill-opacity="0.75"/><circle cx="509.20" cy="414.22" r="0.62" fill="#444" fill-opacity="0.75"/><circle cx="512.37" cy="410.85" r="0.62" fill="#444" fill-opacity="0.75"/><circle cx="503.27" cy="415.43" r="0.62" fill="#444" fill-opacity="0.75"/><circle cx="511.53" cy="414.80" r="0.62" fill="#444" fill-opacity="0.75"/><circle cx="498.21" cy="415.24" r="0.62" fill="#444" fill-opacity="0.75"/><circle cx="496.33" cy="415.01" r="0.62" fill="#444" fill-opacity="0.75"/><circle cx="504.68" cy="414.42" r="0.62" fill="#444" fill-opacity="0.75"/><circle cx="518.95" cy="414.50" r="0.62" fill="#444" fill-opacity="0.75"/><circle cx="510.68" cy="415.15" r="0.62" fill="#444" fill-opacity="0.75"/><circle cx="539.03" cy="413.55" r="0.62" fill="#444" fill-opacity="0.75"/><circle cx="539.74" cy="415.13" r="0.62" fill="#444" fill-opacity="0.75"/><circle cx="552.51" cy="414.01" r="0.62" fill="#444" fill-opacity="0.75"/><circle cx="556.76" cy="415.14" r="0.62" fill="#444" fill-opacity="0.75"/><circle cx="564.56" cy="411.71" r="0.62" fill="#444" fill-opacity="0.75"/><circle cx="582.28" cy="412.58" r="0.62" fill="#444" fill-opacity="0.75"/><circle cx="604.97" cy="414.31" r="0.62" fill="#444" fill-opacity="0.75"/><circle cx="475.45" cy="314.79" r="0.62" fill="#444" fill-opacity="0.75"/><circle cx="460.69" cy="315.57" r="0.62" fill="#444" fill-opacity="0.75"/><circle cx="473.75" cy="317.73" r="0.62" fill="#444" fill-opacity="0.75"/><circle cx="489.87" cy="318.42" r="0.62" fill="#444" fill-opacity="0.75"/><circle cx="476.73" cy="316.44" r="0.62" fill="#444" fill-opacity="0.75"/><circle cx="495.79" cy="318.75" r="0.62" fill="#444" fill-opacity="0.75"/><circle cx="489.78" cy="316.32" r="0.62" fill="#444" fill-opacity="0.75"/><circle cx="481.91" cy="318.34" r="0.62" fill="#444" fill-opacity="0.75"/><circle cx="470.36" cy="320.68" r="0.62" fill="#444" fill-opacity="0.75"/><circle cx="461.64" cy="320.57" r="0.62" fill="#444" fill-opacity="0.75"/><circle cx="486.12" cy="319.34" r="0.62" fill="#444" fill-opacity="0.75"/><circle cx="462.98" cy="320.48" r="0.62" fill="#444" fill-opacity="0.75"/><circle cx="490.14" cy="315.22" r="0.62" fill="#444" fill-opacity="0.75"/><circle cx="483.30" cy="319.16" r="0.62" fill="#444" fill-opacity="0.75"/><circle cx="466.14" cy="319.08" r="0.62" fill="#444" fill-opacity="0.75"/><circle cx="474.84" cy="319.99" r="0.62" fill="#444" fill-opacity="0.75"/><circle cx="474.30" cy="319.28" r="0.62" fill="#444" fill-opacity="0.75"/><circle cx="494.96" cy="314.54" r="0.62" fill="#444" fill-opacity="0.75"/><circle cx="478.35" cy="319.41" r="0.62" fill="#444" fill-opacity="0.75"/><circle cx="495.12" cy="318.97" r="0.62" fill="#444" fill-opacity="0.75"/><circle cx="470.72" cy="321.04" r="0.62" fill="#444" fill-opacity="0.75"/><circle cx="471.72" cy="317.87" r="0.62" fill="#444" fill-opacity="0.75"/><circle cx="476.58" cy="319.70" r="0.62" fill="#444" fill-opacity="0.75"/><circle cx="476.66" cy="321.01" r="0.62" fill="#444" fill-opacity="0.75"/><circle cx="467.02" cy="320.45" r="0.62" fill="#444" fill-opacity="0.75"/><circle cx="472.44" cy="320.77" r="0.62" fill="#444" fill-opacity="0.75"/><circle cx="457.34" cy="319.01" r="0.62" fill="#444" fill-opacity="0.75"/><circle cx="465.76" cy="317.13" r="0.62" fill="#444" fill-opacity="0.75"/><circle cx="477.64" cy="316.02" r="0.62" fill="#444" fill-opacity="0.75"/><circle cx="482.78" cy="316.25" r="0.62" fill="#444" fill-opacity="0.75"/><circle cx="491.65" cy="318.44" r="0.62" fill="#444" fill-opacity="0.75"/><circle cx="469.50" cy="314.46" r="0.62" fill="#444" fill-opacity="0.75"/><circle cx="462.42" cy="316.20" r="0.62" fill="#444" fill-opacity="0.75"/><circle cx="482.20" cy="320.75" r="0.62" fill="#444" fill-opacity="0.75"/><circle cx="489.90" cy="315.08" r="0.62" fill="#444" fill-opacity="0.75"/><circle cx="481.57" cy="316.14" r="0.62" fill="#444" fill-opacity="0.75"/><circle cx="488.97" cy="320.11" r="0.62" fill="#444" fill-opacity="0.75"/><circle cx="477.42" cy="317.67" r="0.62" fill="#444" fill-opacity="0.75"/><circle cx="489.88" cy="315.66" r="0.62" fill="#444" fill-opacity="0.75"/><circle cx="489.54" cy="317.14" r="0.62" fill="#444" fill-opacity="0.75"/><circle cx="492.20" cy="316.48" r="0.62" fill="#444" fill-opacity="0.75"/><circle cx="484.21" cy="319.51" r="0.62" fill="#444" fill-opacity="0.75"/><circle cx="457.68" cy="320.16" r="0.62" fill="#444" fill-opacity="0.75"/><circle cx="470.89" cy="320.34" r="0.62" fill="#444" fill-opacity="0.75"/><circle cx="489.92" cy="317.31" r="0.62" fill="#444" fill-opacity="0.75"/><circle cx="481.58" cy="316.86" r="0.62" fill="#444" fill-opacity="0.75"/><circle cx="483.70" cy="317.77" r="0.62" fill="#444" fill-opacity="0.75"/><circle cx="456.57" cy="315.71" r="0.62" fill="#444" fill-opacity="0.75"/><circle cx="515.06" cy="317.68" r="0.62" fill="#444" fill-opacity="0.75"/><circle cx="509.78" cy="316.79" r="0.62" fill="#444" fill-opacity="0.75"/><circle cx="498.13" cy="316.34" r="0.62" fill="#444" fill-opacity="0.75"/><circle cx="502.75" cy="320.14" r="0.62" fill="#444" fill-opacity="0.75"/><circle cx="503.08" cy="316.38" r="0.62" fill="#444" fill-opacity="0.75"/><circle cx="501.59" cy="316.32" r="0.62" fill="#444" fill-opacity="0.75"/><circle cx="520.71" cy="317.73" r="0.62" fill="#444" fill-opacity="0.75"/><circle cx="505.99" cy="317.82" r="0.62" fill="#444" fill-opacity="0.75"/><circle cx="513.46" cy="316.17" r="0.62" fill="#444" fill-opacity="0.75"/><circle cx="511.81" cy="316.88" r="0.62" fill="#444" fill-opacity="0.75"/><circle cx="526.63" cy="320.93" r="0.62" fill="#444" fill-opacity="0.75"/><circle cx="529.11" cy="320.40" r="0.62" fill="#444" fill-opacity="0.75"/><circle cx="536.55" cy="319.58" r="0.62" fill="#444" fill-opacity="0.75"/><circle cx="537.26" cy="315.84" r="0.62" fill="#444" fill-opacity="0.75"/><circle cx="548.96" cy="319.20" r="0.62" fill="#444" fill-opacity="0.75"/><circle cx="549.67" cy="317.18" r="0.62" fill="#444" fill-opacity="0.75"/><circle cx="555.34" cy="321.43" r="0.62" fill="#444" fill-opacity="0.75"/><circle cx="573.07" cy="321.06" r="0.62" fill="#444" fill-opacity="0.75"/><circle cx="579.09" cy="319.47" r="0.62" fill="#444" fill-opacity="0.75"/><rect x="449.2" y="310.9" width="164.00" height="109.90" fill="none" stroke="#9a9a9a" stroke-width="0.5"/><line x1="448.10" x2="449.20" y1="413.30" y2="413.30" stroke="#777" stroke-width="0.35"/><line x1="448.10" x2="449.20" y1="389.40" y2="389.40" stroke="#777" stroke-width="0.35"/><line x1="448.10" x2="449.20" y1="365.50" y2="365.50" stroke="#777" stroke-width="0.35"/><line x1="448.10" x2="449.20" y1="341.60" y2="341.60" stroke="#777" stroke-width="0.35"/><line x1="448.10" x2="449.20" y1="317.70" y2="317.70" stroke="#777" stroke-width="0.35"/><line x1="457.50" x2="457.50" y1="420.80" y2="421.90" stroke="#777" stroke-width="0.35"/><line x1="492.95" x2="492.95" y1="420.80" y2="421.90" stroke="#777" stroke-width="0.35"/><line x1="528.40" x2="528.40" y1="420.80" y2="421.90" stroke="#777" stroke-width="0.35"/><line x1="563.85" x2="563.85" y1="420.80" y2="421.90" stroke="#777" stroke-width="0.35"/><line x1="599.30" x2="599.30" y1="420.80" y2="421.90" stroke="#777" stroke-width="0.35"/><text x="447.50" y="414.30" font-size="3.1" text-anchor="end" fill="#666">0.00</text><text x="447.50" y="390.40" font-size="3.1" text-anchor="end" fill="#666">0.25</text><text x="447.50" y="366.50" font-size="3.1" text-anchor="end" fill="#666">0.50</text><text x="447.50" y="342.60" font-size="3.1" text-anchor="end" fill="#666">0.75</text><text x="447.50" y="318.70" font-size="3.1" text-anchor="end" fill="#666">1.00</text><text x="457.50" y="426.00" font-size="3.2" text-anchor="middle" fill="#666">0</text><text x="492.95" y="426.00" font-size="3.2" text-anchor="middle" fill="#666">10</text><text x="528.40" y="426.00" font-size="3.2" text-anchor="middle" fill="#666">20</text><text x="563.85" y="426.00" font-size="3.2" text-anchor="middle" fill="#666">30</text><text x="599.30" y="426.00" font-size="3.2" text-anchor="middle" fill="#666">40</text><text x="531.30" y="430.70" font-size="3.75" text-anchor="middle" fill="#333">DNF count by day</text><text x="438.80" y="365.00" font-size="3.68" text-anchor="middle" fill="#222" font-weight="bold" transform="rotate(-90 438.80 365.00)">Predicted probability of DFF by day</text></svg>
<svg style="left:23.05px;top:210.3px" width="65.6" height="55.5" viewBox="0 0 65.6 55.5">
<defs><clipPath id="cp1"><rect width="65.6" height="55.5"/></clipPath>
<filter id="bl1" x="-10%" y="-10%" width="120%" height="120%"><feGaussianBlur stdDeviation="0.6"/></filter>
<filter id="bl1b" x="-10%" y="-10%" width="120%" height="120%"><feGaussianBlur stdDeviation="0.35"/></filter>
<radialGradient id="fan" gradientUnits="userSpaceOnUse" cx="36" cy="37" r="33"><stop offset="0" stop-color="#3f8f86" stop-opacity="0.95"/><stop offset="0.3" stop-color="#6fa38a" stop-opacity="0.9"/><stop offset="0.75" stop-color="#93b490" stop-opacity="0.85"/><stop offset="1" stop-color="#9dbc92" stop-opacity="0.7"/></radialGradient>
<linearGradient id="grs" x1="0" y1="0" x2="0" y2="1"><stop offset="0" stop-color="#62b336"/><stop offset="1" stop-color="#74c542"/></linearGradient>
</defs>
<g clip-path="url(#cp1)"><g filter="url(#bl1)">
<rect x="-2" y="-2" width="70" height="60" fill="#63a035"/>
<rect x="-2" y="-2" width="70" height="14.5" fill="#1f3a1e"/>
<rect x="8" y="-2" width="22" height="8" fill="#2c4f26"/>
<rect x="-2" y="12" width="70" height="5" fill="#58a02e"/>
<rect x="-2" y="17" width="70" height="10" fill="#6c9c3e"/>
<rect x="-2" y="26" width="11.5" height="17" fill="#4c7c2a"/>
<rect x="58" y="19" width="10" height="14" fill="#568a30"/>
<rect x="47.5" y="-2" width="9.5" height="18" fill="#7e8e84"/>
<rect x="50" y="-2" width="3" height="18" fill="#a0aca4"/>
<rect x="58" y="0" width="4.5" height="4" fill="#d0dcdc"/>
<rect x="59" y="12.5" width="6" height="5" fill="#3a5678"/>
<rect x="-2" y="37" width="70" height="21" fill="url(#grs)"/>
<ellipse cx="30" cy="50" rx="22" ry="5" fill="#86d24e" fill-opacity="0.6"/>
</g>
<g filter="url(#bl1b)">
<path d="M36.0 37.0 L10.0 44.8 L8.2 42.5 L6.5 39.9 L5.1 37.0 L5.2 34.0 L5.6 31.0 L6.2 28.0 L7.0 25.1 L8.0 22.4 L9.3 19.7 L10.7 17.1 L12.4 14.7 L14.2 12.5 L16.2 10.5 L18.3 8.6 L20.6 7.0 L23.0 5.6 L25.4 4.4 L28.0 3.5 L30.6 2.9 L33.3 2.5 L36.0 2.3 L38.7 2.5 L41.4 2.9 L44.0 3.5 L46.6 4.4 L49.0 5.6 L51.4 7.0 L53.7 8.6 L55.8 10.5 L57.8 12.5 L59.6 14.7 L61.3 17.1 L62.7 19.7 L64.0 22.4 L65.0 25.1 L65.8 28.0 L66.4 31.0 L66.8 34.0 L66.9 37.0 L66.4 40.0 L65.7 42.9 L64.8 45.7 L63.7 48.3 L62.4 50.8 L60.9 53.1 L59.2 55.3 L57.5 57.2 L55.6 59.0 L53.6 60.5 L51.5 61.8Z" fill="url(#fan)"/>
<path d="M36 37 L56 20 L62 30 L62.5 40 L58 50 L48 49Z" fill="#2f6f5e" fill-opacity="0.25"/>
<circle cx="27.7" cy="40.3" r="0.85" fill="#46b08f" fill-opacity="0.6"/><circle cx="27.8" cy="33.4" r="0.85" fill="#46b08f" fill-opacity="0.6"/><circle cx="32.0" cy="28.3" r="0.85" fill="#46b08f" fill-opacity="0.6"/><circle cx="38.3" cy="27.6" r="0.85" fill="#46b08f" fill-opacity="0.6"/><circle cx="43.4" cy="31.7" r="0.85" fill="#2a7a80" fill-opacity="0.6"/><circle cx="44.7" cy="38.4" r="0.85" fill="#2a7a80" fill-opacity="0.6"/><circle cx="41.7" cy="44.4" r="0.85" fill="#2a7a80" fill-opacity="0.6"/><circle cx="23.6" cy="42.0" r="0.85" fill="#46b08f" fill-opacity="0.6"/><circle cx="22.9" cy="35.0" r="0.85" fill="#46b08f" fill-opacity="0.6"/><circle cx="25.2" cy="28.5" r="0.85" fill="#46b08f" fill-opacity="0.6"/><circle cx="30.1" cy="24.0" r="0.85" fill="#46b08f" fill-opacity="0.6"/><circle cx="36.3" cy="22.4" r="0.85" fill="#46b08f" fill-opacity="0.6"/><circle cx="42.4" cy="24.2" r="0.85" fill="#2a7a80" fill-opacity="0.6"/><circle cx="47.1" cy="29.0" r="0.85" fill="#2a7a80" fill-opacity="0.6"/><circle cx="49.2" cy="35.6" r="0.85" fill="#2a7a80" fill-opacity="0.6"/><circle cx="48.2" cy="42.5" r="0.85" fill="#2a7a80" fill-opacity="0.6"/><circle cx="44.5" cy="48.2" r="0.85" fill="#2a7a80" fill-opacity="0.6"/><circle cx="18.4" cy="36.7" r="0.85" fill="#46b08f" fill-opacity="0.6"/><circle cx="19.6" cy="29.8" r="0.85" fill="#46b08f" fill-opacity="0.6"/><circle cx="23.0" cy="23.9" r="0.85" fill="#46b08f" fill-opacity="0.6"/><circle cx="28.1" cy="19.6" r="0.85" fill="#46b08f" fill-opacity="0.6"/><circle cx="34.2" cy="17.7" r="0.85" fill="#46b08f" fill-opacity="0.6"/><circle cx="40.6" cy="18.2" r="0.85" fill="#2a7a80" fill-opacity="0.6"/><circle cx="46.3" cy="21.2" r="0.85" fill="#2a7a80" fill-opacity="0.6"/><circle cx="50.7" cy="26.3" r="0.85" fill="#2a7a80" fill-opacity="0.6"/><circle cx="53.2" cy="32.8" r="0.85" fill="#2a7a80" fill-opacity="0.6"/><circle cx="53.5" cy="39.8" r="0.85" fill="#2a7a80" fill-opacity="0.6"/><circle cx="51.4" cy="46.5" r="0.85" fill="#2a7a80" fill-opacity="0.6"/><circle cx="14.4" cy="32.3" r="0.85" fill="#46b08f" fill-opacity="0.6"/><circle cx="16.3" cy="26.0" r="0.85" fill="#46b08f" fill-opacity="0.6"/><circle cx="19.7" cy="20.6" r="0.85" fill="#46b08f" fill-opacity="0.6"/><circle cx="24.4" cy="16.4" r="0.85" fill="#46b08f" fill-opacity="0.6"/><circle cx="29.8" cy="13.7" r="0.85" fill="#46b08f" fill-opacity="0.6"/><circle cx="35.8" cy="12.7" r="0.85" fill="#46b08f" fill-opacity="0.6"/><circle cx="41.7" cy="13.5" r="0.85" fill="#2a7a80" fill-opacity="0.6"/><circle cx="47.2" cy="16.1" r="0.85" fill="#2a7a80" fill-opacity="0.6"/><circle cx="51.9" cy="20.2" r="0.85" fill="#2a7a80" fill-opacity="0.6"/><circle cx="55.4" cy="25.5" r="0.85" fill="#2a7a80" fill-opacity="0.6"/><circle cx="57.5" cy="31.7" r="0.85" fill="#2a7a80" fill-opacity="0.6"/><circle cx="58.0" cy="38.3" r="0.85" fill="#2a7a80" fill-opacity="0.6"/><circle cx="56.9" cy="44.8" r="0.85" fill="#2a7a80" fill-opacity="0.6"/><circle cx="54.2" cy="50.7" r="0.85" fill="#2a7a80" fill-opacity="0.6"/><circle cx="9.7" cy="33.8" r="0.85" fill="#46b08f" fill-opacity="0.6"/><circle cx="11.1" cy="27.3" r="0.85" fill="#46b08f" fill-opacity="0.6"/><circle cx="13.7" cy="21.3" r="0.85" fill="#46b08f" fill-opacity="0.6"/><circle cx="17.5" cy="16.1" r="0.85" fill="#46b08f" fill-opacity="0.6"/><circle cx="22.4" cy="12.0" r="0.85" fill="#46b08f" fill-opacity="0.6"/><circle cx="27.9" cy="9.3" r="0.85" fill="#46b08f" fill-opacity="0.6"/><circle cx="33.8" cy="7.9" r="0.85" fill="#46b08f" fill-opacity="0.6"/><circle cx="39.9" cy="8.2" r="0.85" fill="#46b08f" fill-opacity="0.6"/><circle cx="45.7" cy="9.9" r="0.85" fill="#2a7a80" fill-opacity="0.6"/><circle cx="51.1" cy="13.0" r="0.85" fill="#2a7a80" fill-opacity="0.6"/><circle cx="55.6" cy="17.4" r="0.85" fill="#2a7a80" fill-opacity="0.6"/><circle cx="59.2" cy="22.9" r="0.85" fill="#2a7a80" fill-opacity="0.6"/><circle cx="61.5" cy="29.1" r="0.85" fill="#2a7a80" fill-opacity="0.6"/><circle cx="60.2" cy="48.7" r="0.85" fill="#2a7a80" fill-opacity="0.6"/><circle cx="5.7" cy="35.4" r="0.85" fill="#46b08f" fill-opacity="0.6"/><circle cx="6.5" cy="28.8" r="0.85" fill="#46b08f" fill-opacity="0.6"/><circle cx="8.6" cy="22.6" r="0.85" fill="#46b08f" fill-opacity="0.6"/><circle cx="11.7" cy="16.9" r="0.85" fill="#46b08f" fill-opacity="0.6"/><circle cx="15.7" cy="12.0" r="0.85" fill="#46b08f" fill-opacity="0.6"/><circle cx="20.6" cy="8.1" r="0.85" fill="#46b08f" fill-opacity="0.6"/><circle cx="26.1" cy="5.4" r="0.85" fill="#46b08f" fill-opacity="0.6"/><circle cx="31.9" cy="3.8" r="0.85" fill="#46b08f" fill-opacity="0.6"/><circle cx="37.9" cy="3.6" r="0.85" fill="#46b08f" fill-opacity="0.6"/><circle cx="43.9" cy="4.7" r="0.85" fill="#2a7a80" fill-opacity="0.6"/><circle cx="49.5" cy="7.0" r="0.85" fill="#2a7a80" fill-opacity="0.6"/><circle cx="54.6" cy="10.5" r="0.85" fill="#2a7a80" fill-opacity="0.6"/><circle cx="59.0" cy="15.1" r="0.85" fill="#2a7a80" fill-opacity="0.6"/>
<path d="M34.4 32.6 C34.6 30.8 36.8 30.8 37.2 32.6 L38 39.5 C37.8 42.2 34.6 42.2 34.2 39.5Z" fill="#1760d0"/>
<path d="M35.2 31 L35.8 29.4 L36.4 31" stroke="#2a4a6a" stroke-width="0.4" fill="none"/>
<path d="M37.4 41.4 L38 46.5" stroke="#9a9a8a" stroke-width="0.6"/>
<path d="M7.2 46.6 C10 42.4 19 41.4 24 44 C27 45.2 29.6 46 30.4 47.2 C27 48.4 23 49 19 49.6 C14 50.4 9.4 49.8 7.2 46.6Z" fill="#8a8c8a"/>
<path d="M12 43.6 C16 42.4 21 43 24 44.6 C20 45 15 45 12 43.6Z" fill="#a2a4a0"/>
<path d="M6.2 45.6 C7.2 44.4 8.8 45.4 9.4 47.2 C8.4 48.4 6.8 48.2 6.2 45.6Z" fill="#2e6f86"/>
<path d="M9 47 C10.6 47 11.8 48 12.2 49.4 C10.8 49.8 9.6 49.2 9 47Z" fill="#ecece8"/>
<path d="M13.8 49.4 L13.2 52.8 M18.6 49.8 L18.4 53" stroke="#a0a094" stroke-width="0.5"/>
</g>
<path d="M60.5 55.5 L65.6 51.5 V55.5Z" fill="#4a4a4a"/>
</g></svg>
<svg style="left:120.1px;top:210.3px" width="68.8" height="55.5" viewBox="0 0 68.8 55.5">
<defs><clipPath id="cp2"><rect width="68.8" height="55.5"/></clipPath>
<filter id="bl2" x="-10%" y="-10%" width="120%" height="120%"><feGaussianBlur stdDeviation="0.55"/></filter>
<filter color-interpolation-filters="sRGB" id="nz2" x="0" y="0" width="100%" height="100%"><feTurbulence type="fractalNoise" baseFrequency="0.3" numOctaves="2" seed="8"/><feColorMatrix values="0 0 0 0 0.2  0 0 0 0 0.15  0 0 0 0 0.05  1.6 0 0 0 -0.7"/><feGaussianBlur stdDeviation="0.5"/></filter>
<linearGradient id="gnd" x1="0" y1="0" x2="0" y2="1"><stop offset="0" stop-color="#b08052"/><stop offset="0.55" stop-color="#a37448"/><stop offset="1" stop-color="#8a6446"/></linearGradient>
<linearGradient id="veg" x1="0" y1="0" x2="0" y2="1"><stop offset="0" stop-color="#6f8a3c"/><stop offset="0.7" stop-color="#8c9450"/><stop offset="1" stop-color="#a88a55"/></linearGradient>
<linearGradient id="el1" x1="0" y1="0" x2="1" y2="1"><stop offset="0" stop-color="#9a8260"/><stop offset="0.6" stop-color="#86694a"/><stop offset="1" stop-color="#6b5239"/></linearGradient>
<linearGradient id="el2" x1="1" y1="0" x2="0" y2="1"><stop offset="0" stop-color="#a48b66"/><stop offset="0.55" stop-color="#8e7352"/><stop offset="1" stop-color="#6e553c"/></linearGradient>
</defs>
<g clip-path="url(#cp2)"><g filter="url(#bl2)">
<rect x="-2" y="-2" width="73" height="60" fill="url(#gnd)"/>
<rect x="-2" y="-2" width="73" height="20" fill="url(#veg)"/>
<path d="M6 -1 H24 V6 H6Z M42 -1 H70 V7 H42Z" fill="#5f8c36" fill-opacity="0.8"/>
<path d="M12 45.5 H21 V48 H12Z M24 50 H32 V52 H24Z M6 47 H10 V49 H6Z" fill="#cfc9c0" fill-opacity="0.55"/>
<path d="M1.26 26.81 Q5.47 29.44 6.78 33.12 Q8.10 36.80 9.41 41.01 Q10.73 45.22 11.78 51.00 Q12.83 56.78 4.94 56.78 Q-2.94 56.78 -2.94 40.48 Q-2.94 24.19 1.26 26.81Z" fill="#6f5840"/>
<path d="M3.89 7.78 Q9.67 7.15 12.83 8.31 Q15.98 9.46 18.87 11.15 Q21.77 12.83 24.92 15.25 Q28.08 17.67 29.50 19.98 Q30.91 22.29 31.76 23.87 Q32.60 25.45 30.86 27.02 Q29.13 28.60 26.50 29.23 Q23.87 29.86 21.50 30.18 Q19.14 30.49 17.03 30.07 Q14.93 29.65 13.35 30.34 Q11.78 31.02 4.94 31.02 Q-1.89 31.02 -1.89 19.72 Q-1.89 8.41 3.89 7.78Z" fill="url(#el1)"/>
<path d="M2.73 9.99 Q7.36 10.52 8.94 13.93 Q10.52 17.35 11.04 21.82 Q11.57 26.29 11.04 30.07 Q10.52 33.86 8.52 32.44 Q6.52 31.02 4.68 29.18 Q2.84 27.34 0.47 26.29 Q-1.89 25.24 -1.89 17.35 Q-1.89 9.46 2.73 9.99Z" fill="#9a8262"/>
<path d="M66.46 32.33 Q61.20 35.23 61.83 39.70 Q62.46 44.16 61.83 47.32 Q61.20 50.47 60.04 53.63 Q58.89 56.78 65.30 56.78 Q71.71 56.78 71.71 43.11 Q71.71 29.44 66.46 32.33Z" fill="#7a6046"/>
<path d="M66.46 5.89 Q61.20 6.52 58.04 6.52 Q54.89 6.52 51.74 7.89 Q48.58 9.25 45.95 11.20 Q43.32 13.14 40.69 16.04 Q38.07 18.93 36.23 21.66 Q34.38 24.40 32.28 25.76 Q30.18 27.13 29.13 28.55 Q28.08 29.97 28.86 30.86 Q29.65 31.76 31.76 31.97 Q33.86 32.18 36.49 31.97 Q39.12 31.76 41.75 30.70 Q44.37 29.65 47.00 29.97 Q49.63 30.28 51.21 32.23 Q52.79 34.17 62.25 34.44 Q71.71 34.70 71.71 19.98 Q71.71 5.26 66.46 5.89Z" fill="url(#el2)"/>
<path d="M66.46 8.04 Q61.20 8.20 58.57 10.15 Q55.94 12.09 54.36 16.04 Q52.79 19.98 52.16 23.66 Q51.52 27.34 52.16 30.91 Q52.79 34.49 55.42 35.23 Q58.04 35.96 60.67 35.33 Q63.30 34.70 67.51 32.86 Q71.71 31.02 71.71 19.45 Q71.71 7.89 66.46 8.04Z" fill="#a68e6a"/>
<path d="M15.5 17.5 C18 16.5 21 17.5 23 19.5" stroke="#5a4a38" stroke-width="0.6" stroke-opacity="0.6" fill="none"/>
<path d="M43 18.5 C45 17 48 17 50 18.5" stroke="#5a4a38" stroke-width="0.6" stroke-opacity="0.6" fill="none"/>
<circle cx="45.6" cy="20" r="0.9" fill="#2a2018"/><circle cx="20.2" cy="19.6" r="0.8" fill="#2a2018"/>
<path d="M26.39 35.75 Q25.45 38.91 25.34 42.06 Q25.24 45.22 26.39 47.32 Q27.55 49.42 29.65 50.21 Q31.76 51.00 33.44 50.21 Q35.12 49.42 34.07 48.63 Q33.02 47.84 31.76 46.00 Q30.49 44.16 30.18 41.54 Q29.86 38.91 30.28 36.38 Q30.70 33.86 29.02 33.23 Q27.34 32.60 26.39 35.75Z" fill="#2f2720"/>
<path d="M34.02 36.70 Q35.44 39.96 36.33 43.64 Q37.22 47.32 37.54 52.05 Q37.85 56.78 39.01 56.78 Q40.17 56.78 39.96 52.05 Q39.75 47.32 38.91 43.64 Q38.07 39.96 37.01 36.91 Q35.96 33.86 34.28 33.65 Q32.60 33.44 34.02 36.70Z" fill="#332a22"/>
<path d="M23.97 30.23 Q25.45 31.02 28.08 31.91 Q30.70 32.81 33.33 33.02 Q35.96 33.23 37.64 32.39 Q39.33 31.55 39.12 32.49 Q38.91 33.44 37.17 34.28 Q35.44 35.12 32.81 34.91 Q30.18 34.70 27.71 33.75 Q25.24 32.81 23.87 31.13 Q22.50 29.44 23.97 30.23Z" fill="#e8dfb8"/>
</g><rect width="68.8" height="55.5" filter="url(#nz2)" opacity="0.35"/></g></svg>
<svg style="left:637.1px;top:448.9px" width="77.8" height="55.3" viewBox="0 0 77.8 55.3">
<defs><clipPath id="cp3"><rect width="77.8" height="55.3"/></clipPath>
<filter id="bl3" x="-10%" y="-10%" width="120%" height="120%"><feGaussianBlur stdDeviation="0.6"/></filter>
<filter color-interpolation-filters="sRGB" id="nz3" x="0" y="0" width="100%" height="100%"><feTurbulence type="fractalNoise" baseFrequency="0.22" numOctaves="3" seed="5"/><feColorMatrix values="1.3 0.2 0 0 -0.28  1.3 0.3 0 0 -0.25  1.2 -0.2 0 0 -0.10  0 0 0 0 1"/><feGaussianBlur stdDeviation="0.35"/></filter>
<linearGradient id="f1" x1="0" y1="0" x2="0" y2="1"><stop offset="0" stop-color="#1d3a14" stop-opacity="0.7"/><stop offset="0.35" stop-color="#1d3a14" stop-opacity="0.2"/><stop offset="0.6" stop-color="#2a3a20" stop-opacity="0.05"/><stop offset="1" stop-color="#3a3a20" stop-opacity="0.3"/></linearGradient>
</defs><g clip-path="url(#cp3)">
<rect width="77.8" height="55.3" fill="#6f9465"/>
<rect width="77.8" height="55.3" filter="url(#nz3)" opacity="0.85"/>
<rect width="77.8" height="55.3" fill="url(#f1)"/>
<g filter="url(#bl3)">
<ellipse cx="36" cy="24" rx="14" ry="9" fill="#a9c6b4" fill-opacity="0.28"/>
<path d="M56 0 H60.5 V13 H56Z" fill="#3b3a24"/><path d="M1 0 H3 V20 H1Z" fill="#2c3a1c" fill-opacity="0.8"/>
<path d="M63 0 H65 V10 H63Z M68 0 H70 V18 H68Z" fill="#8c8a6a" fill-opacity="0.7"/>
<path d="M0 41.2 L77.8 42 V44 L0 43.3Z" fill="#8b7b55"/>
<path d="M19 28 C24 30 30 33 36 37 C38 39 40 41 41 42" stroke="#8d8a68" stroke-width="1.4" fill="none"/>
<ellipse cx="22.5" cy="33" rx="3" ry="3.5" fill="#d6cdb8"/>
<path d="M37 35 C39 34 41 37 41 40 C39 40 37 38 37 35Z" fill="#9ec23e"/>
<ellipse cx="9" cy="33" rx="4" ry="5" fill="#5f8a52" fill-opacity="0.7"/>
<path d="M60 17 C62 14 66 14 67 18 C67.5 21 66 24 63 24 C60 23 59 20 60 17Z" fill="#241a12"/>
<circle cx="57.2" cy="19" r="1.5" fill="#b4431e"/><circle cx="59.5" cy="23.5" r="1.3" fill="#d8cfc4"/>
<path d="M65.5 37.5 C67.5 36.5 72 36.5 73.5 38.5 C73 41 69 41.5 66.2 40.8Z" fill="#10182c"/>
<circle cx="66" cy="37.4" r="0.8" fill="#d23a2a"/>
</g></g></svg>
<svg style="left:730.9px;top:448.9px" width="80.7" height="55.8" viewBox="0 0 80.7 55.8">
<defs><clipPath id="cp4"><rect width="80.7" height="55.8"/></clipPath>
<filter id="bl4" x="-10%" y="-10%" width="120%" height="120%"><feGaussianBlur stdDeviation="0.55"/></filter>
<filter color-interpolation-filters="sRGB" id="nz4" x="0" y="0" width="100%" height="100%"><feTurbulence type="fractalNoise" baseFrequency="0.2" numOctaves="3" seed="21"/><feColorMatrix values="1.6 0.3 0 0 -0.60  1.7 0.4 0 0 -0.54  0.8 0 0 0 -0.22  0 0 0 0 1"/><feGaussianBlur stdDeviation="0.35"/></filter>
</defs><g clip-path="url(#cp4)">
<rect width="80.7" height="55.8" fill="#5b9335"/>
<rect width="80.7" height="55.8" filter="url(#nz4)" opacity="0.85"/>
<rect width="80.7" height="55.8" fill="#2a3a12" fill-opacity="0.18"/><path d="M0 34 L50 44 L80.7 55.8 H0Z" fill="#1e2a10" fill-opacity="0.3"/>
<g filter="url(#bl4)" fill="none" stroke="#3d3c22" stroke-linecap="round">
<path d="M10 0 C12 14 14 30 15 55.8" stroke-width="2"/>
<path d="M14 0 C18 14 20 30 19.5 55.8" stroke-width="1.6"/>
<path d="M28 0 C24 10 21 22 21 34" stroke-width="1.5"/>
<path d="M36 0 C36 12 36.5 24 36 34" stroke-width="1.2"/>
<path d="M52 0 C51.5 12 51 22 52 36" stroke-width="1.1"/>
<path d="M0 30.5 C14 31.5 28 33.5 42 37 C56 40.5 70 46 80.7 51" stroke-width="2.1" stroke="#4a4226"/>
<path d="M20 55.8 C26 40 40 26 56 19 C64 16 72 15 80.7 17" stroke-width="1.5"/>
<path d="M30 55.8 C36 44 46 34 58 30 C66 27.5 74 28 80.7 30" stroke-width="1.4"/>
<path d="M60 0 C64 8 70 16 80.7 22" stroke-width="1.1"/>
<path d="M0 46 C8 42 14 40 20 38" stroke-width="1"/>
<path d="M66 0 C65 6 64 12 62 16" stroke-width="0.9"/>
<path d="M74 0 C72 8 70 14 69 20" stroke-width="0.9"/>
<path d="M40 55.8 C46 48 54 42 64 38" stroke-width="1.2"/>
</g>
<g filter="url(#bl4)">
<path d="M20.5 28 C23 25.5 28 25 30.5 27.5 C31.5 30 29 32.5 25.5 32.5 C22.5 32.5 20.5 31 20.5 28Z" fill="#0f1218"/>
<ellipse cx="29.3" cy="26" rx="2" ry="1.2" fill="#d8281e"/><circle cx="25" cy="26.6" r="0.9" fill="#2a86b0"/>
<path d="M57 16 C59 14.5 62 15.5 64.5 19 C66.5 22 67.5 25 66.5 27 C63.5 26.5 60 23.5 58 20 C57 18.5 56.6 17 57 16Z" fill="#3a3436"/>
<ellipse cx="58.4" cy="15" rx="2.1" ry="1.2" fill="#d8281e"/>
<path d="M65 24 C66.5 26 67.5 29 67 31" stroke="#b98a8a" stroke-width="1.2" fill="none"/>
</g></g></svg>
<svg style="left:0;top:0" width="828" height="618" viewBox="0 0 828 618" font-family="Liberation Sans, sans-serif">
<g stroke-linejoin="round">
<!-- measuring line -->
<path d="M25.8 411.7 H34.8 M31.1 411.7 L32.2 491.7 M28.4 491.8 H37.4" stroke="#b9b9b9" stroke-width="0.55" fill="none"/>
<!-- post -->
<rect x="41.3" y="409" width="5.5" height="12.4" fill="#8e8e8e" stroke="#666" stroke-width="0.3"/>
<!-- camera -->
<path d="M28.1 384.2 L55.6 380.9 L60.5 384.4 L33.5 387.7Z" fill="#858585" stroke="#444" stroke-width="0.4"/>
<path d="M28.1 384.2 L33.5 387.7 L34.2 409.9 L28.6 406.4Z" fill="#7a7a7a" stroke="#444" stroke-width="0.4"/>
<path d="M33.5 387.7 L60.5 384.4 L60.7 407.1 L34.2 409.9Z" fill="#9b9b9b" stroke="#444" stroke-width="0.4"/>
<circle cx="50.1" cy="398.4" r="7.2" fill="#f4f4f4" stroke="#7d7d7d" stroke-width="0.5"/>
<circle cx="50.1" cy="398.4" r="5.9" fill="none" stroke="#b5b5b5" stroke-width="1.5" stroke-dasharray="1.9 0.75"/>
<circle cx="50.1" cy="398.4" r="4.3" fill="#050505"/>
<!-- leaf -->
<path d="M48.83 435.84 L45.72 436.62 L44.68 432.48 L42.09 423.93 L45.46 427.55 L46.76 423.67 L49.09 429.37 L50.38 432.99Z" fill="#8dc63f" stroke="#62a02c" stroke-width="0.5" stroke-linejoin="round"/>
<path d="M49.09 435.84 L48.57 431.96 L50.64 427.81 L48.57 424.96 L49.61 416.93 L52.72 421.60 L54.53 417.19 L52.72 409.94 L56.34 413.82 L58.41 409.94 L56.86 404.24 L60.23 407.87 L62.04 403.72 L62.82 397.76 L65.15 402.68 L66.96 398.80 L70.07 393.10 L71.11 398.28 L74.22 400.09 L70.33 403.46 L73.70 406.83 L69.30 409.42 L73.18 413.82 L68.26 415.64 L76.03 423.67 L68.78 424.19 L73.18 429.37 L65.41 428.33 L68.78 433.25 L60.75 431.96 L59.19 434.81 L55.05 432.48 L52.72 434.81Z" fill="#8dc63f" stroke="#62a02c" stroke-width="0.5" stroke-linejoin="round"/>
<path d="M50.38 434.94 Q56.86 422.63 63.34 409.68 T69.55 395.43 M55.56 425.22 L50.64 419.39 M59.45 417.45 L54.92 412.92 M62.69 410.97 L59.19 406.44 M56.86 423.28 L73.05 423.67 M60.75 415.51 L71.37 413.82 M63.98 408.38 L72.15 406.57 M52.97 430.40 L69.81 429.37 " stroke="#62a02c" stroke-width="0.45" fill="none"/>
<!-- upper bird -->
<path d="M89.6 447.8 C89.0 443.0 89.8 438.0 92.6 435.2 C95.6 432.6 100.6 433.0 103.4 436.0 C105.6 438.6 106.2 443.0 104.8 446.6 C103.8 449.0 101.4 449.8 99.6 448.6 C98.6 447.6 98.2 446.0 98.2 444.4 C96.8 446.4 94.6 447.8 92.4 448.2 C91.4 448.4 90.4 448.4 89.6 447.8Z" fill="#030303"/>
<path d="M94.2 435.0 C96.8 432.6 101.2 432.8 103.6 435.6 C104.6 436.8 105.0 438.0 105.0 439.2 C102.0 437.6 98.0 437.2 94.2 438.2Z" fill="#1b6bdc"/>
<path d="M90.8 438.0 C92.0 436.2 93.8 435.8 95.2 436.4 L95.6 438.8 C94.0 439.4 92.0 439.4 90.6 439.6Z" fill="#e3201c"/>
<!-- branch -->
<path d="M24.3 499.2 C32 498.6 38 496.2 44 492.8 C52 488.2 58 484.2 64 481.6 C72 478.2 82 475.8 92 473.8 C100 472.2 108 471.2 115.9 470.4 L116.0 474.6 C108 475.6 100 476.8 92 478.4 C82 480.6 73 482.8 65 486.4 C58 489.6 52 493.6 45 497.6 C38 501.2 31 503.4 24.6 503.6 C23.4 502.6 23.4 500.2 24.3 499.2Z" fill="#7d4c1f" stroke="#51300f" stroke-width="0.5"/>
<!-- lower bird -->
<path d="M85.0 470.8 L91.6 464.4 L92.8 465.2 L87.4 472.4Z" fill="#050505"/>
<path d="M77.4 476.5 L76.6 479.5 M80.6 476.3 L80.6 479.0" stroke="#6a4a2a" stroke-width="0.5"/>
<path d="M67.8 468.6 C68.0 465.8 71.0 464.4 74.6 464.6 C79.0 464.6 84.0 466.0 86.4 468.8 C87.2 470.6 86.6 472.6 85.0 474.0 C82.6 476.2 79.2 477.2 76.0 476.8 C72.0 476.2 68.6 473.4 67.8 468.6Z" fill="#040404"/>
<path d="M74.2 465.2 C76.6 464.4 80.4 464.8 82.6 466.2 C81.4 467.8 77.6 468.0 75.2 467.4Z" fill="#1b6bdc"/>
<path d="M68.0 468.2 C68.2 466.2 70.0 465.0 71.8 465.2 C72.2 466.6 71.6 468.2 70.2 469.0 C69.4 469.2 68.6 469.0 68.0 468.2Z" fill="#e3201c"/>
</g>
<text x="33.3" y="450.9" font-size="10.3" fill="#2b2b2b" textLength="51.4" lengthAdjust="spacingAndGlyphs">100-130cm</text>
</svg>
<svg style="left:0;top:0" width="828" height="618" viewBox="0 0 828 618" font-family="Liberation Sans, sans-serif"><defs><filter id="blm" x="-5%" y="-5%" width="110%" height="110%"><feGaussianBlur stdDeviation="0.3"/></filter><clipPath id="cpi"><polygon points="74.49,526.60 76.73,525.11 81.00,526.60 89.37,527.71 95.88,526.23 102.39,526.60 107.04,528.46 109.83,530.69 115.41,534.04 120.99,535.90 124.71,539.62 129.92,541.85 134.01,545.20 139.59,547.43 143.31,550.03 147.03,548.54 150.75,549.29 154.46,551.89 158.18,552.63 162.83,553.75 168.41,552.63 167.11,555.24 164.69,557.10 160.97,557.47 158.18,559.33 154.46,560.82 150.75,561.93 146.10,562.31 141.45,561.00 136.80,558.59 132.15,556.73 127.50,555.61 122.85,556.35 120.06,559.33 117.27,561.93 113.55,563.42 109.83,563.79 106.11,562.31 102.39,561.93 100.16,564.91 98.67,567.88 97.18,570.86 94.95,573.09 91.23,576.07 87.51,578.67 83.79,580.90 80.07,582.39 76.73,584.62 72.63,586.11 71.89,582.39 72.26,578.67 71.52,573.09 71.70,567.51 72.26,561.00 72.63,554.49 71.89,547.99 71.15,541.48 72.26,536.83 73.56,532.18"/></clipPath></defs><g filter="url(#blm)"><rect x="70.77" y="517.67" width="101.92" height="69.37" fill="#dcdcdc"/><polygon points="74.49,526.60 76.73,525.11 81.00,526.60 89.37,527.71 95.88,526.23 102.39,526.60 107.04,528.46 109.83,530.69 115.41,534.04 120.99,535.90 124.71,539.62 129.92,541.85 134.01,545.20 139.59,547.43 143.31,550.03 147.03,548.54 150.75,549.29 154.46,551.89 158.18,552.63 162.83,553.75 168.41,552.63 167.11,555.24 164.69,557.10 160.97,557.47 158.18,559.33 154.46,560.82 150.75,561.93 146.10,562.31 141.45,561.00 136.80,558.59 132.15,556.73 127.50,555.61 122.85,556.35 120.06,559.33 117.27,561.93 113.55,563.42 109.83,563.79 106.11,562.31 102.39,561.93 100.16,564.91 98.67,567.88 97.18,570.86 94.95,573.09 91.23,576.07 87.51,578.67 83.79,580.90 80.07,582.39 76.73,584.62 72.63,586.11 71.89,582.39 72.26,578.67 71.52,573.09 71.70,567.51 72.26,561.00 72.63,554.49 71.89,547.99 71.15,541.48 72.26,536.83 73.56,532.18" fill="#fbfbfb" stroke="#6e6e6e" stroke-width="0.35"/><g clip-path="url(#cpi)" fill="none" stroke="#8a8a8a" stroke-width="0.3"><ellipse cx="125.92" cy="568.22" rx="4.15" ry="3.22" transform="rotate(133 125.92 568.22)"/><ellipse cx="151.54" cy="529.12" rx="3.05" ry="3.22" transform="rotate(117 151.54 529.12)"/><ellipse cx="149.71" cy="533.74" rx="3.06" ry="1.67" transform="rotate(98 149.71 533.74)"/><ellipse cx="121.73" cy="528.25" rx="2.21" ry="1.74" transform="rotate(165 121.73 528.25)"/><ellipse cx="138.14" cy="536.28" rx="4.16" ry="1.43" transform="rotate(111 138.14 536.28)"/><ellipse cx="83.47" cy="527.62" rx="4.40" ry="1.58" transform="rotate(39 83.47 527.62)"/><ellipse cx="156.68" cy="575.39" rx="2.46" ry="3.26" transform="rotate(97 156.68 575.39)"/><ellipse cx="130.62" cy="538.76" rx="4.64" ry="2.66" transform="rotate(174 130.62 538.76)"/><ellipse cx="149.09" cy="543.92" rx="2.70" ry="1.49" transform="rotate(26 149.09 543.92)"/><ellipse cx="78.21" cy="544.06" rx="3.51" ry="1.12" transform="rotate(122 78.21 544.06)"/><ellipse cx="101.54" cy="544.53" rx="4.23" ry="2.19" transform="rotate(57 101.54 544.53)"/><ellipse cx="113.80" cy="566.19" rx="1.68" ry="3.29" transform="rotate(4 113.80 566.19)"/><ellipse cx="136.78" cy="573.88" rx="1.55" ry="2.87" transform="rotate(66 136.78 573.88)"/><ellipse cx="122.13" cy="528.03" rx="1.64" ry="1.52" transform="rotate(172 122.13 528.03)"/><ellipse cx="89.45" cy="568.99" rx="4.60" ry="3.22" transform="rotate(62 89.45 568.99)"/><ellipse cx="102.99" cy="556.31" rx="4.08" ry="1.36" transform="rotate(135 102.99 556.31)"/><ellipse cx="140.84" cy="574.69" rx="1.61" ry="3.23" transform="rotate(16 140.84 574.69)"/><ellipse cx="101.78" cy="561.04" rx="4.56" ry="1.87" transform="rotate(166 101.78 561.04)"/><ellipse cx="119.27" cy="544.67" rx="2.55" ry="1.51" transform="rotate(14 119.27 544.67)"/><ellipse cx="85.37" cy="565.34" rx="4.82" ry="1.48" transform="rotate(9 85.37 565.34)"/><ellipse cx="157.05" cy="556.80" rx="2.85" ry="1.65" transform="rotate(107 157.05 556.80)"/><ellipse cx="143.32" cy="552.53" rx="2.90" ry="1.24" transform="rotate(165 143.32 552.53)"/><ellipse cx="75.43" cy="554.61" rx="4.29" ry="1.41" transform="rotate(132 75.43 554.61)"/><ellipse cx="153.89" cy="562.11" rx="4.13" ry="1.35" transform="rotate(78 153.89 562.11)"/><ellipse cx="85.40" cy="573.87" rx="2.47" ry="2.13" transform="rotate(180 85.40 573.87)"/><ellipse cx="145.54" cy="581.07" rx="3.01" ry="2.21" transform="rotate(131 145.54 581.07)"/><ellipse cx="113.62" cy="543.49" rx="2.84" ry="1.44" transform="rotate(68 113.62 543.49)"/><ellipse cx="157.19" cy="580.19" rx="3.59" ry="2.23" transform="rotate(61 157.19 580.19)"/><ellipse cx="80.26" cy="542.47" rx="4.11" ry="3.05" transform="rotate(65 80.26 542.47)"/><ellipse cx="139.88" cy="570.04" rx="3.81" ry="2.60" transform="rotate(137 139.88 570.04)"/><ellipse cx="103.73" cy="566.18" rx="2.43" ry="2.20" transform="rotate(139 103.73 566.18)"/><ellipse cx="131.74" cy="543.65" rx="4.65" ry="2.57" transform="rotate(105 131.74 543.65)"/><ellipse cx="73.63" cy="557.54" rx="2.33" ry="2.61" transform="rotate(83 73.63 557.54)"/><ellipse cx="142.50" cy="563.05" rx="4.16" ry="1.89" transform="rotate(116 142.50 563.05)"/><ellipse cx="135.76" cy="572.96" rx="2.66" ry="3.00" transform="rotate(157 135.76 572.96)"/><ellipse cx="131.52" cy="581.08" rx="4.69" ry="2.27" transform="rotate(95 131.52 581.08)"/><ellipse cx="86.85" cy="573.43" rx="4.63" ry="2.18" transform="rotate(124 86.85 573.43)"/><ellipse cx="134.20" cy="567.60" rx="2.06" ry="2.86" transform="rotate(105 134.20 567.60)"/><ellipse cx="129.57" cy="550.61" rx="3.58" ry="2.84" transform="rotate(115 129.57 550.61)"/><ellipse cx="134.27" cy="529.04" rx="2.02" ry="2.10" transform="rotate(117 134.27 529.04)"/><ellipse cx="91.37" cy="565.16" rx="3.60" ry="1.21" transform="rotate(85 91.37 565.16)"/><ellipse cx="91.99" cy="530.50" rx="1.93" ry="1.82" transform="rotate(33 91.99 530.50)"/><ellipse cx="89.18" cy="529.48" rx="3.05" ry="1.96" transform="rotate(110 89.18 529.48)"/><ellipse cx="123.12" cy="540.58" rx="4.51" ry="1.12" transform="rotate(73 123.12 540.58)"/><ellipse cx="96.46" cy="550.02" rx="1.87" ry="2.97" transform="rotate(67 96.46 550.02)"/><ellipse cx="75.72" cy="561.19" rx="1.81" ry="2.33" transform="rotate(61 75.72 561.19)"/><polygon points="77.67,529.42 79.68,528.09 83.53,529.42 91.06,530.43 96.92,529.09 102.78,529.42 106.96,531.10 109.47,533.11 114.49,536.12 119.51,537.79 122.86,541.14 127.55,543.15 131.23,546.16 136.25,548.17 139.60,550.51 142.95,549.18 146.30,549.84 149.64,552.19 152.99,552.86 157.17,553.86 162.20,552.86 161.02,555.20 158.85,556.87 155.50,557.21 152.99,558.88 149.64,560.22 146.30,561.23 142.11,561.56 137.93,560.39 133.74,558.21 129.56,556.54 125.37,555.54 121.19,556.21 118.68,558.88 116.17,561.23 112.82,562.57 109.47,562.90 106.12,561.56 102.78,561.23 100.77,563.90 99.43,566.58 98.09,569.26 96.08,571.27 92.73,573.95 89.39,576.29 86.04,578.30 82.69,579.64 79.68,581.65 76.00,582.99 75.33,579.64 75.66,576.29 74.99,571.27 75.16,566.25 75.66,560.39 76.00,554.53 75.33,548.67 74.66,542.81 75.66,538.63 76.83,534.45" stroke="#a0a0a0" stroke-width="0.28"/><polygon points="81.48,532.82 83.22,531.66 86.56,532.82 93.09,533.69 98.16,532.53 103.24,532.82 106.87,534.27 109.04,536.01 113.39,538.62 117.75,540.07 120.65,542.97 124.71,544.71 127.90,547.32 132.25,549.06 135.15,551.09 138.05,549.93 140.96,550.51 143.86,552.55 146.76,553.13 150.38,554.00 154.74,553.13 153.72,555.16 151.84,556.61 148.93,556.90 146.76,558.35 143.86,559.51 140.96,560.38 137.33,560.67 133.70,559.65 130.08,557.77 126.45,556.32 122.82,555.45 119.20,556.03 117.02,558.35 114.84,560.38 111.94,561.54 109.04,561.83 106.14,560.67 103.24,560.38 101.50,562.70 100.34,565.02 99.18,567.34 97.44,569.08 94.54,571.40 91.63,573.43 88.73,575.18 85.83,576.34 83.22,578.08 80.03,579.24 79.45,576.34 79.74,573.43 79.16,569.08 79.30,564.73 79.74,559.65 80.03,554.58 79.45,549.50 78.87,544.42 79.74,540.80 80.75,537.17" stroke="#a0a0a0" stroke-width="0.28"/><polygon points="85.93,536.77 87.35,535.82 90.09,536.77 95.45,537.49 99.61,536.54 103.78,536.77 106.76,537.96 108.54,539.39 112.11,541.54 115.68,542.73 118.06,545.11 121.40,546.53 124.01,548.68 127.58,550.11 129.96,551.77 132.35,550.82 134.73,551.30 137.11,552.96 139.49,553.44 142.46,554.15 146.03,553.44 145.20,555.10 143.65,556.29 141.27,556.53 139.49,557.72 137.11,558.68 134.73,559.39 131.75,559.63 128.77,558.79 125.80,557.25 122.82,556.06 119.85,555.34 116.87,555.82 115.09,557.72 113.30,559.39 110.92,560.34 108.54,560.58 106.16,559.63 103.78,559.39 102.35,561.29 101.40,563.20 100.45,565.10 99.02,566.53 96.64,568.44 94.26,570.10 91.88,571.53 89.50,572.48 87.35,573.91 84.74,574.86 84.26,572.48 84.50,570.10 84.02,566.53 84.14,562.96 84.50,558.79 84.74,554.63 84.26,550.46 83.78,546.30 84.50,543.32 85.33,540.35" stroke="#a0a0a0" stroke-width="0.28"/><polygon points="90.37,540.73 91.49,539.99 93.63,540.73 97.81,541.29 101.06,540.55 104.32,540.73 106.64,541.66 108.04,542.78 110.83,544.45 113.62,545.38 115.48,547.24 118.08,548.36 120.13,550.03 122.92,551.15 124.78,552.45 126.64,551.70 128.50,552.08 130.36,553.38 132.22,553.75 134.54,554.31 137.33,553.75 136.68,555.05 135.47,555.98 133.61,556.17 132.22,557.10 130.36,557.84 128.50,558.40 126.17,558.59 123.85,557.93 121.52,556.73 119.20,555.80 116.87,555.24 114.55,555.61 113.15,557.10 111.76,558.40 109.90,559.14 108.04,559.33 106.18,558.59 104.32,558.40 103.20,559.89 102.46,561.38 101.72,562.86 100.60,563.98 98.74,565.47 96.88,566.77 95.02,567.88 93.16,568.63 91.49,569.74 89.44,570.49 89.07,568.63 89.26,566.77 88.88,563.98 88.98,561.19 89.26,557.93 89.44,554.68 89.07,551.43 88.70,548.17 89.26,545.85 89.91,543.52" stroke="#a0a0a0" stroke-width="0.28"/><ellipse cx="76.73" cy="567.51" rx="2.40" ry="3.75"/><ellipse cx="76.73" cy="567.51" rx="4.40" ry="6.88"/><ellipse cx="76.73" cy="567.51" rx="6.40" ry="10.00"/><ellipse cx="76.73" cy="567.51" rx="8.40" ry="13.12"/></g><rect x="80.71" y="540.88" width="3.2" height="1.2" fill="#555" fill-opacity="0.75"/><rect x="91.49" y="542.74" width="3.2" height="1.2" fill="#555" fill-opacity="0.75"/><rect x="97.44" y="532.51" width="3.2" height="1.2" fill="#555" fill-opacity="0.75"/><rect x="100.79" y="538.09" width="3.2" height="1.2" fill="#555" fill-opacity="0.75"/><rect x="108.23" y="544.60" width="3.2" height="1.2" fill="#555" fill-opacity="0.75"/><rect x="113.81" y="543.67" width="3.2" height="1.2" fill="#555" fill-opacity="0.75"/><rect x="107.86" y="551.10" width="3.2" height="1.2" fill="#555" fill-opacity="0.75"/><rect x="109.35" y="554.27" width="3.2" height="1.2" fill="#555" fill-opacity="0.75"/><rect x="116.97" y="551.29" width="3.2" height="1.2" fill="#555" fill-opacity="0.75"/><rect x="123.11" y="547.39" width="3.2" height="1.2" fill="#555" fill-opacity="0.75"/><rect x="127.76" y="545.53" width="3.2" height="1.2" fill="#555" fill-opacity="0.75"/><rect x="84.05" y="551.66" width="3.2" height="1.2" fill="#555" fill-opacity="0.75"/><rect x="76.61" y="553.52" width="3.2" height="1.2" fill="#555" fill-opacity="0.75"/><rect x="98.00" y="558.54" width="3.2" height="1.2" fill="#555" fill-opacity="0.75"/><rect x="89.63" y="562.82" width="3.2" height="1.2" fill="#555" fill-opacity="0.75"/><rect x="85.54" y="572.49" width="3.2" height="1.2" fill="#555" fill-opacity="0.75"/><rect x="78.85" y="580.30" width="3.2" height="1.2" fill="#555" fill-opacity="0.75"/><rect x="108.23" y="559.85" width="3.2" height="1.2" fill="#555" fill-opacity="0.75"/><rect x="144.50" y="551.66" width="3.2" height="1.2" fill="#555" fill-opacity="0.75"/><rect x="154.72" y="552.59" width="3.2" height="1.2" fill="#555" fill-opacity="0.75"/><rect x="137.99" y="553.89" width="3.2" height="1.2" fill="#555" fill-opacity="0.75"/><rect x="87.77" y="533.44" width="3.2" height="1.2" fill="#555" fill-opacity="0.75"/><rect x="76.61" y="547.39" width="3.2" height="1.2" fill="#555" fill-opacity="0.75"/><rect x="70.99" y="567.11" width="1.8" height="0.8" fill="#555"/><rect x="70.99" y="569.34" width="1.8" height="0.8" fill="#555"/><rect x="70.99" y="571.58" width="1.8" height="0.8" fill="#555"/><rect x="70.99" y="573.81" width="1.8" height="0.8" fill="#555"/><rect x="70.99" y="576.04" width="1.8" height="0.8" fill="#555"/><rect x="70.99" y="578.27" width="1.8" height="0.8" fill="#555"/><rect x="70.99" y="580.50" width="1.8" height="0.8" fill="#555"/><rect x="70.99" y="582.73" width="1.8" height="0.8" fill="#555"/><rect x="139.59" y="577.95" width="16.74" height="0.7" fill="#666" fill-opacity="0.7"/><path d="M167.11 521.95 V535.52 M166.21 523.95 L167.11 521.35 L168.01 523.95" stroke="#555" stroke-width="0.5" fill="none"/><path d="M70.40 531.25 L62.59 594.67" stroke="#9a9a9a" stroke-width="0.35"/><path d="M73.38 531.81 L72.26 589.83" stroke="#aaa" stroke-width="0.3"/><path d="M67.99 595.41 L172.69 587.04" stroke="#bdbdbd" stroke-width="0.35"/><rect x="33.21" y="513.21" width="39.80" height="18.04" fill="#fdfdfd" stroke="#999" stroke-width="0.4"/><polygon points="34.32,515.44 39.16,516.18 42.88,519.53 48.46,522.88 54.04,523.62 58.69,521.02 63.34,518.41 68.92,517.67 71.89,519.53 71.89,524.37 69.84,526.60 66.13,525.11 63.34,526.60 59.62,528.46 55.90,527.34 52.18,528.83 48.46,527.34 44.74,528.09 41.02,526.23 37.30,526.60 34.70,523.99" fill="#fbfbfb" stroke="#8a8a8a" stroke-width="0.3"/><rect x="55.90" y="515.41" width="14" height="0.9" fill="#777" fill-opacity="0.6"/><rect x="34.32" y="529.17" width="17" height="0.9" fill="#666" fill-opacity="0.7"/><rect x="39.53" y="518.86" width="5" height="0.6" fill="#888" fill-opacity="0.6"/><rect x="46.60" y="524.81" width="3" height="0.6" fill="#888" fill-opacity="0.6"/><rect x="54.04" y="522.21" width="4" height="0.6" fill="#888" fill-opacity="0.6"/><rect x="62.41" y="521.09" width="5" height="0.6" fill="#888" fill-opacity="0.6"/><rect x="65.20" y="524.44" width="3" height="0.6" fill="#888" fill-opacity="0.6"/><rect x="41.02" y="516.63" width="3" height="0.6" fill="#888" fill-opacity="0.6"/><path d="M37.67 522.54 l1 0.6 l-0.4 3.4 l-1.3 0.5Z" fill="#111"/><rect x="34.20" y="514.70" width="1" height="0.7" fill="#666"/><rect x="34.20" y="516.18" width="1" height="0.7" fill="#666"/><rect x="34.20" y="517.67" width="1" height="0.7" fill="#666"/><rect x="34.20" y="519.16" width="1" height="0.7" fill="#666"/><rect x="34.20" y="520.65" width="1" height="0.7" fill="#666"/><rect x="34.20" y="522.13" width="1" height="0.7" fill="#666"/><rect x="34.20" y="523.62" width="1" height="0.7" fill="#666"/><rect x="34.20" y="525.11" width="1" height="0.7" fill="#666"/><rect x="34.20" y="526.60" width="1" height="0.7" fill="#666"/><rect x="34.20" y="528.09" width="1" height="0.7" fill="#666"/><rect x="34.20" y="529.57" width="1" height="0.7" fill="#666"/><rect x="70.65" y="514.70" width="1" height="0.7" fill="#666"/><rect x="70.65" y="516.18" width="1" height="0.7" fill="#666"/><rect x="70.65" y="517.67" width="1" height="0.7" fill="#666"/><rect x="70.65" y="519.16" width="1" height="0.7" fill="#666"/><rect x="70.65" y="520.65" width="1" height="0.7" fill="#666"/><rect x="70.65" y="522.13" width="1" height="0.7" fill="#666"/><rect x="70.65" y="523.62" width="1" height="0.7" fill="#666"/><rect x="70.65" y="525.11" width="1" height="0.7" fill="#666"/><rect x="70.65" y="526.60" width="1" height="0.7" fill="#666"/><rect x="70.65" y="528.09" width="1" height="0.7" fill="#666"/><rect x="70.65" y="529.57" width="1" height="0.7" fill="#666"/><rect x="48.09" y="589.83" width="19.90" height="12.09" fill="#dddddd"/><polygon points="50.69,593.92 53.11,592.06 55.90,592.62 58.69,593.55 61.48,594.67 65.20,595.04 66.13,596.34 63.34,596.90 60.55,596.15 58.69,597.64 59.24,599.87 57.38,600.24 55.90,598.38 53.11,597.64 51.25,596.15" fill="#fafafa" stroke="#777" stroke-width="0.3"/><rect x="62.03" y="593.55" width="4.6" height="2.6" fill="none" stroke="#888" stroke-width="0.3"/></g><text x="51.7" y="535.8" font-size="3.85" text-anchor="middle" fill="#666">Republic of Panama</text><text x="57.6" y="606.4" font-size="3.85" text-anchor="middle" fill="#666">Isla Boca Brava</text><text x="148" y="582.6" font-size="3.2" text-anchor="middle" fill="#555">2000 m</text></svg>
<svg style="left:633.9px;top:557.9px" width="48.9" height="48.9" viewBox="0 0 37 37" shape-rendering="crispEdges"><path d="M0 0h7v1h-7zM8 0h2v1h-2zM11 0h1v1h-1zM13 0h2v1h-2zM16 0h1v1h-1zM19 0h2v1h-2zM23 0h6v1h-6zM30 0h7v1h-7zM0 1h1v1h-1zM6 1h1v1h-1zM10 1h1v1h-1zM13 1h1v1h-1zM19 1h2v1h-2zM22 1h2v1h-2zM27 1h2v1h-2zM30 1h1v1h-1zM36 1h1v1h-1zM0 2h1v1h-1zM2 2h3v1h-3zM6 2h1v1h-1zM9 2h1v1h-1zM13 2h2v1h-2zM17 2h1v1h-1zM25 2h2v1h-2zM30 2h1v1h-1zM32 2h3v1h-3zM36 2h1v1h-1zM0 3h1v1h-1zM2 3h3v1h-3zM6 3h1v1h-1zM9 3h1v1h-1zM12 3h3v1h-3zM16 3h2v1h-2zM19 3h3v1h-3zM23 3h2v1h-2zM26 3h3v1h-3zM30 3h1v1h-1zM32 3h3v1h-3zM36 3h1v1h-1zM0 4h1v1h-1zM2 4h3v1h-3zM6 4h1v1h-1zM10 4h1v1h-1zM14 4h1v1h-1zM16 4h1v1h-1zM18 4h1v1h-1zM20 4h2v1h-2zM24 4h1v1h-1zM26 4h1v1h-1zM30 4h1v1h-1zM32 4h3v1h-3zM36 4h1v1h-1zM0 5h1v1h-1zM6 5h1v1h-1zM9 5h3v1h-3zM13 5h3v1h-3zM18 5h3v1h-3zM23 5h2v1h-2zM28 5h1v1h-1zM30 5h1v1h-1zM36 5h1v1h-1zM0 6h7v1h-7zM8 6h1v1h-1zM10 6h1v1h-1zM12 6h1v1h-1zM14 6h1v1h-1zM16 6h1v1h-1zM18 6h1v1h-1zM20 6h1v1h-1zM22 6h1v1h-1zM24 6h1v1h-1zM26 6h1v1h-1zM28 6h1v1h-1zM30 6h7v1h-7zM8 7h2v1h-2zM11 7h1v1h-1zM13 7h1v1h-1zM16 7h4v1h-4zM21 7h2v1h-2zM24 7h1v1h-1zM26 7h3v1h-3zM2 8h1v1h-1zM4 8h4v1h-4zM9 8h1v1h-1zM13 8h4v1h-4zM19 8h2v1h-2zM24 8h4v1h-4zM29 8h2v1h-2zM32 8h1v1h-1zM34 8h1v1h-1zM36 8h1v1h-1zM2 9h1v1h-1zM4 9h1v1h-1zM8 9h2v1h-2zM12 9h1v1h-1zM14 9h1v1h-1zM16 9h2v1h-2zM24 9h3v1h-3zM29 9h2v1h-2zM36 9h1v1h-1zM0 10h4v1h-4zM5 10h7v1h-7zM13 10h2v1h-2zM16 10h2v1h-2zM21 10h1v1h-1zM24 10h5v1h-5zM32 10h1v1h-1zM34 10h2v1h-2zM1 11h1v1h-1zM4 11h1v1h-1zM7 11h1v1h-1zM15 11h3v1h-3zM20 11h1v1h-1zM23 11h1v1h-1zM25 11h1v1h-1zM27 11h1v1h-1zM31 11h1v1h-1zM34 11h1v1h-1zM2 12h1v1h-1zM5 12h6v1h-6zM13 12h1v1h-1zM15 12h4v1h-4zM20 12h4v1h-4zM27 12h2v1h-2zM30 12h1v1h-1zM32 12h1v1h-1zM1 13h1v1h-1zM5 13h1v1h-1zM7 13h1v1h-1zM9 13h1v1h-1zM15 13h1v1h-1zM18 13h1v1h-1zM20 13h1v1h-1zM22 13h5v1h-5zM29 13h1v1h-1zM31 13h4v1h-4zM3 14h1v1h-1zM5 14h2v1h-2zM8 14h2v1h-2zM12 14h5v1h-5zM22 14h1v1h-1zM27 14h1v1h-1zM36 14h1v1h-1zM0 15h1v1h-1zM4 15h1v1h-1zM7 15h2v1h-2zM11 15h2v1h-2zM14 15h1v1h-1zM18 15h1v1h-1zM21 15h2v1h-2zM24 15h2v1h-2zM28 15h1v1h-1zM31 15h1v1h-1zM35 15h1v1h-1zM0 16h1v1h-1zM2 16h1v1h-1zM5 16h2v1h-2zM10 16h1v1h-1zM13 16h2v1h-2zM17 16h1v1h-1zM19 16h1v1h-1zM21 16h1v1h-1zM25 16h1v1h-1zM27 16h2v1h-2zM30 16h1v1h-1zM32 16h1v1h-1zM35 16h2v1h-2zM0 17h5v1h-5zM7 17h2v1h-2zM13 17h1v1h-1zM15 17h1v1h-1zM17 17h6v1h-6zM24 17h1v1h-1zM26 17h1v1h-1zM28 17h1v1h-1zM32 17h1v1h-1zM35 17h2v1h-2zM2 18h1v1h-1zM5 18h4v1h-4zM10 18h4v1h-4zM16 18h2v1h-2zM19 18h5v1h-5zM29 18h1v1h-1zM33 18h2v1h-2zM0 19h1v1h-1zM4 19h2v1h-2zM7 19h1v1h-1zM9 19h1v1h-1zM15 19h1v1h-1zM17 19h1v1h-1zM21 19h2v1h-2zM24 19h2v1h-2zM27 19h1v1h-1zM29 19h3v1h-3zM34 19h1v1h-1zM36 19h1v1h-1zM1 20h3v1h-3zM5 20h2v1h-2zM10 20h3v1h-3zM14 20h2v1h-2zM19 20h1v1h-1zM21 20h1v1h-1zM29 20h3v1h-3zM33 20h2v1h-2zM36 20h1v1h-1zM2 21h4v1h-4zM9 21h1v1h-1zM11 21h3v1h-3zM15 21h1v1h-1zM23 21h1v1h-1zM30 21h1v1h-1zM33 21h2v1h-2zM0 22h2v1h-2zM5 22h2v1h-2zM8 22h2v1h-2zM11 22h3v1h-3zM16 22h2v1h-2zM20 22h1v1h-1zM22 22h2v1h-2zM26 22h1v1h-1zM31 22h1v1h-1zM2 23h2v1h-2zM7 23h2v1h-2zM12 23h1v1h-1zM14 23h3v1h-3zM18 23h3v1h-3zM31 23h1v1h-1zM33 23h2v1h-2zM2 24h1v1h-1zM6 24h3v1h-3zM15 24h2v1h-2zM18 24h1v1h-1zM20 24h9v1h-9zM31 24h1v1h-1zM33 24h1v1h-1zM0 25h1v1h-1zM2 25h1v1h-1zM4 25h1v1h-1zM7 25h2v1h-2zM10 25h4v1h-4zM15 25h1v1h-1zM18 25h1v1h-1zM23 25h1v1h-1zM26 25h1v1h-1zM28 25h1v1h-1zM30 25h4v1h-4zM1 26h2v1h-2zM4 26h1v1h-1zM6 26h2v1h-2zM9 26h2v1h-2zM12 26h1v1h-1zM14 26h1v1h-1zM17 26h2v1h-2zM21 26h1v1h-1zM23 26h3v1h-3zM30 26h1v1h-1zM32 26h1v1h-1zM35 26h2v1h-2zM1 27h3v1h-3zM9 27h3v1h-3zM13 27h5v1h-5zM19 27h1v1h-1zM23 27h2v1h-2zM29 27h7v1h-7zM3 28h2v1h-2zM6 28h5v1h-5zM12 28h2v1h-2zM16 28h1v1h-1zM19 28h4v1h-4zM25 28h2v1h-2zM28 28h7v1h-7zM12 29h1v1h-1zM18 29h1v1h-1zM22 29h1v1h-1zM24 29h3v1h-3zM28 29h1v1h-1zM32 29h3v1h-3zM0 30h7v1h-7zM9 30h1v1h-1zM11 30h1v1h-1zM14 30h1v1h-1zM16 30h1v1h-1zM18 30h3v1h-3zM22 30h1v1h-1zM26 30h1v1h-1zM28 30h1v1h-1zM30 30h1v1h-1zM32 30h2v1h-2zM36 30h1v1h-1zM0 31h1v1h-1zM6 31h1v1h-1zM8 31h3v1h-3zM12 31h2v1h-2zM19 31h1v1h-1zM21 31h1v1h-1zM23 31h2v1h-2zM27 31h2v1h-2zM32 31h5v1h-5zM0 32h1v1h-1zM2 32h3v1h-3zM6 32h1v1h-1zM8 32h1v1h-1zM10 32h2v1h-2zM14 32h1v1h-1zM16 32h1v1h-1zM18 32h1v1h-1zM20 32h2v1h-2zM25 32h8v1h-8zM36 32h1v1h-1zM0 33h1v1h-1zM2 33h3v1h-3zM6 33h1v1h-1zM8 33h2v1h-2zM13 33h2v1h-2zM19 33h2v1h-2zM25 33h2v1h-2zM30 33h1v1h-1zM33 33h1v1h-1zM0 34h1v1h-1zM2 34h3v1h-3zM6 34h1v1h-1zM8 34h1v1h-1zM11 34h1v1h-1zM13 34h2v1h-2zM16 34h3v1h-3zM22 34h1v1h-1zM24 34h1v1h-1zM26 34h5v1h-5zM32 34h2v1h-2zM0 35h1v1h-1zM6 35h1v1h-1zM8 35h4v1h-4zM14 35h2v1h-2zM19 35h2v1h-2zM22 35h1v1h-1zM24 35h1v1h-1zM26 35h1v1h-1zM29 35h1v1h-1zM31 35h4v1h-4zM0 36h7v1h-7zM8 36h3v1h-3zM15 36h2v1h-2zM18 36h1v1h-1zM22 36h1v1h-1zM25 36h2v1h-2zM28 36h1v1h-1zM32 36h1v1h-1zM34 36h1v1h-1zM36 36h1v1h-1z" fill="#000"/></svg>
<svg style="left:697.7px;top:558.8px" width="48.6" height="48.6" viewBox="0 0 33 33" shape-rendering="crispEdges"><path d="M0 0h7v1h-7zM11 0h3v1h-3zM18 0h7v1h-7zM26 0h7v1h-7zM0 1h1v1h-1zM6 1h1v1h-1zM9 1h1v1h-1zM12 1h1v1h-1zM15 1h1v1h-1zM17 1h1v1h-1zM21 1h1v1h-1zM24 1h1v1h-1zM26 1h1v1h-1zM32 1h1v1h-1zM0 2h1v1h-1zM2 2h3v1h-3zM6 2h1v1h-1zM10 2h2v1h-2zM15 2h1v1h-1zM19 2h1v1h-1zM21 2h1v1h-1zM23 2h2v1h-2zM26 2h1v1h-1zM28 2h3v1h-3zM32 2h1v1h-1zM0 3h1v1h-1zM2 3h3v1h-3zM6 3h1v1h-1zM9 3h2v1h-2zM12 3h2v1h-2zM15 3h2v1h-2zM18 3h3v1h-3zM23 3h2v1h-2zM26 3h1v1h-1zM28 3h3v1h-3zM32 3h1v1h-1zM0 4h1v1h-1zM2 4h3v1h-3zM6 4h1v1h-1zM9 4h1v1h-1zM11 4h1v1h-1zM13 4h1v1h-1zM15 4h2v1h-2zM18 4h5v1h-5zM26 4h1v1h-1zM28 4h3v1h-3zM32 4h1v1h-1zM0 5h1v1h-1zM6 5h1v1h-1zM8 5h1v1h-1zM10 5h5v1h-5zM16 5h2v1h-2zM19 5h1v1h-1zM23 5h1v1h-1zM26 5h1v1h-1zM32 5h1v1h-1zM0 6h7v1h-7zM8 6h1v1h-1zM10 6h1v1h-1zM12 6h1v1h-1zM14 6h1v1h-1zM16 6h1v1h-1zM18 6h1v1h-1zM20 6h1v1h-1zM22 6h1v1h-1zM24 6h1v1h-1zM26 6h7v1h-7zM8 7h3v1h-3zM12 7h1v1h-1zM14 7h1v1h-1zM19 7h5v1h-5zM0 8h2v1h-2zM5 8h3v1h-3zM10 8h1v1h-1zM12 8h1v1h-1zM16 8h1v1h-1zM19 8h1v1h-1zM21 8h1v1h-1zM23 8h1v1h-1zM27 8h3v1h-3zM32 8h1v1h-1zM1 9h2v1h-2zM8 9h1v1h-1zM13 9h1v1h-1zM15 9h1v1h-1zM19 9h2v1h-2zM25 9h1v1h-1zM31 9h1v1h-1zM1 10h1v1h-1zM4 10h1v1h-1zM6 10h1v1h-1zM8 10h2v1h-2zM11 10h2v1h-2zM14 10h3v1h-3zM20 10h1v1h-1zM22 10h2v1h-2zM25 10h2v1h-2zM28 10h1v1h-1zM31 10h1v1h-1zM2 11h4v1h-4zM7 11h1v1h-1zM10 11h1v1h-1zM12 11h2v1h-2zM15 11h1v1h-1zM17 11h1v1h-1zM20 11h1v1h-1zM22 11h1v1h-1zM26 11h1v1h-1zM28 11h1v1h-1zM30 11h1v1h-1zM2 12h5v1h-5zM8 12h1v1h-1zM10 12h8v1h-8zM20 12h1v1h-1zM23 12h4v1h-4zM28 12h2v1h-2zM31 12h1v1h-1zM1 13h1v1h-1zM3 13h1v1h-1zM15 13h1v1h-1zM18 13h3v1h-3zM22 13h2v1h-2zM25 13h1v1h-1zM27 13h4v1h-4zM1 14h1v1h-1zM3 14h1v1h-1zM5 14h2v1h-2zM8 14h2v1h-2zM11 14h9v1h-9zM21 14h2v1h-2zM24 14h2v1h-2zM27 14h1v1h-1zM29 14h1v1h-1zM32 14h1v1h-1zM2 15h1v1h-1zM4 15h2v1h-2zM7 15h1v1h-1zM15 15h2v1h-2zM18 15h2v1h-2zM21 15h1v1h-1zM25 15h2v1h-2zM28 15h5v1h-5zM1 16h1v1h-1zM4 16h1v1h-1zM6 16h2v1h-2zM9 16h1v1h-1zM11 16h2v1h-2zM18 16h9v1h-9zM0 17h2v1h-2zM4 17h2v1h-2zM7 17h3v1h-3zM13 17h2v1h-2zM17 17h1v1h-1zM21 17h1v1h-1zM23 17h2v1h-2zM30 17h2v1h-2zM3 18h4v1h-4zM8 18h1v1h-1zM12 18h3v1h-3zM17 18h1v1h-1zM20 18h2v1h-2zM23 18h1v1h-1zM25 18h1v1h-1zM27 18h1v1h-1zM29 18h2v1h-2zM32 18h1v1h-1zM2 19h1v1h-1zM7 19h8v1h-8zM16 19h2v1h-2zM20 19h1v1h-1zM25 19h2v1h-2zM28 19h2v1h-2zM31 19h2v1h-2zM0 20h2v1h-2zM3 20h5v1h-5zM9 20h2v1h-2zM12 20h2v1h-2zM17 20h1v1h-1zM20 20h2v1h-2zM24 20h1v1h-1zM30 20h3v1h-3zM1 21h1v1h-1zM3 21h2v1h-2zM7 21h4v1h-4zM13 21h1v1h-1zM16 21h1v1h-1zM18 21h1v1h-1zM20 21h1v1h-1zM27 21h6v1h-6zM4 22h1v1h-1zM6 22h1v1h-1zM8 22h3v1h-3zM12 22h1v1h-1zM14 22h2v1h-2zM18 22h1v1h-1zM20 22h1v1h-1zM27 22h2v1h-2zM30 22h1v1h-1zM2 23h1v1h-1zM5 23h1v1h-1zM8 23h2v1h-2zM14 23h1v1h-1zM16 23h2v1h-2zM20 23h1v1h-1zM22 23h1v1h-1zM24 23h5v1h-5zM30 23h1v1h-1zM32 23h1v1h-1zM2 24h1v1h-1zM4 24h4v1h-4zM11 24h2v1h-2zM16 24h1v1h-1zM18 24h3v1h-3zM24 24h7v1h-7zM9 25h1v1h-1zM11 25h1v1h-1zM13 25h1v1h-1zM17 25h1v1h-1zM20 25h1v1h-1zM24 25h1v1h-1zM28 25h2v1h-2zM32 25h1v1h-1zM0 26h7v1h-7zM9 26h2v1h-2zM13 26h1v1h-1zM16 26h1v1h-1zM22 26h3v1h-3zM26 26h1v1h-1zM28 26h1v1h-1zM30 26h1v1h-1zM32 26h1v1h-1zM0 27h1v1h-1zM6 27h1v1h-1zM8 27h1v1h-1zM10 27h3v1h-3zM18 27h1v1h-1zM20 27h2v1h-2zM24 27h1v1h-1zM28 27h2v1h-2zM32 27h1v1h-1zM0 28h1v1h-1zM2 28h3v1h-3zM6 28h1v1h-1zM9 28h6v1h-6zM20 28h2v1h-2zM23 28h6v1h-6zM30 28h1v1h-1zM32 28h1v1h-1zM0 29h1v1h-1zM2 29h3v1h-3zM6 29h1v1h-1zM9 29h4v1h-4zM16 29h2v1h-2zM19 29h3v1h-3zM23 29h4v1h-4zM28 29h2v1h-2zM0 30h1v1h-1zM2 30h3v1h-3zM6 30h1v1h-1zM13 30h1v1h-1zM16 30h1v1h-1zM18 30h2v1h-2zM24 30h1v1h-1zM28 30h3v1h-3zM0 31h1v1h-1zM6 31h1v1h-1zM10 31h1v1h-1zM14 31h6v1h-6zM22 31h1v1h-1zM25 31h2v1h-2zM29 31h1v1h-1zM31 31h2v1h-2zM0 32h7v1h-7zM8 32h1v1h-1zM13 32h1v1h-1zM15 32h7v1h-7zM24 32h1v1h-1zM26 32h3v1h-3zM32 32h1v1h-1z" fill="#000"/></svg>
<svg style="left:762.4px;top:558.8px" width="49.0" height="49.0" viewBox="0 0 29 29" shape-rendering="crispEdges"><path d="M0 0h7v1h-7zM8 0h2v1h-2zM11 0h1v1h-1zM13 0h1v1h-1zM15 0h1v1h-1zM22 0h7v1h-7zM0 1h1v1h-1zM6 1h1v1h-1zM8 1h3v1h-3zM12 1h1v1h-1zM14 1h1v1h-1zM16 1h2v1h-2zM22 1h1v1h-1zM28 1h1v1h-1zM0 2h1v1h-1zM2 2h3v1h-3zM6 2h1v1h-1zM10 2h1v1h-1zM12 2h3v1h-3zM17 2h1v1h-1zM19 2h1v1h-1zM22 2h1v1h-1zM24 2h3v1h-3zM28 2h1v1h-1zM0 3h1v1h-1zM2 3h3v1h-3zM6 3h1v1h-1zM10 3h2v1h-2zM19 3h1v1h-1zM22 3h1v1h-1zM24 3h3v1h-3zM28 3h1v1h-1zM0 4h1v1h-1zM2 4h3v1h-3zM6 4h1v1h-1zM10 4h2v1h-2zM14 4h2v1h-2zM17 4h4v1h-4zM22 4h1v1h-1zM24 4h3v1h-3zM28 4h1v1h-1zM0 5h1v1h-1zM6 5h1v1h-1zM8 5h1v1h-1zM10 5h1v1h-1zM12 5h2v1h-2zM16 5h3v1h-3zM20 5h1v1h-1zM22 5h1v1h-1zM28 5h1v1h-1zM0 6h7v1h-7zM8 6h1v1h-1zM10 6h1v1h-1zM12 6h1v1h-1zM14 6h1v1h-1zM16 6h1v1h-1zM18 6h1v1h-1zM20 6h1v1h-1zM22 6h7v1h-7zM9 7h2v1h-2zM13 7h1v1h-1zM16 7h2v1h-2zM19 7h1v1h-1zM1 8h1v1h-1zM4 8h3v1h-3zM8 8h2v1h-2zM11 8h5v1h-5zM18 8h1v1h-1zM20 8h3v1h-3zM25 8h4v1h-4zM2 9h4v1h-4zM8 9h1v1h-1zM11 9h3v1h-3zM15 9h1v1h-1zM17 9h2v1h-2zM21 9h3v1h-3zM26 9h1v1h-1zM0 10h3v1h-3zM6 10h1v1h-1zM10 10h1v1h-1zM12 10h2v1h-2zM15 10h3v1h-3zM19 10h2v1h-2zM22 10h1v1h-1zM0 11h1v1h-1zM4 11h1v1h-1zM7 11h2v1h-2zM11 11h3v1h-3zM16 11h6v1h-6zM24 11h1v1h-1zM26 11h1v1h-1zM2 12h1v1h-1zM5 12h2v1h-2zM10 12h1v1h-1zM12 12h3v1h-3zM16 12h2v1h-2zM20 12h1v1h-1zM22 12h1v1h-1zM25 12h4v1h-4zM0 13h4v1h-4zM5 13h1v1h-1zM7 13h1v1h-1zM9 13h1v1h-1zM13 13h1v1h-1zM16 13h1v1h-1zM19 13h3v1h-3zM26 13h3v1h-3zM0 14h1v1h-1zM4 14h1v1h-1zM6 14h2v1h-2zM9 14h2v1h-2zM12 14h2v1h-2zM16 14h5v1h-5zM23 14h1v1h-1zM25 14h2v1h-2zM28 14h1v1h-1zM2 15h1v1h-1zM4 15h1v1h-1zM7 15h1v1h-1zM11 15h1v1h-1zM16 15h3v1h-3zM22 15h1v1h-1zM25 15h1v1h-1zM28 15h1v1h-1zM1 16h2v1h-2zM6 16h5v1h-5zM15 16h3v1h-3zM19 16h1v1h-1zM21 16h1v1h-1zM23 16h3v1h-3zM28 16h1v1h-1zM1 17h4v1h-4zM7 17h3v1h-3zM14 17h3v1h-3zM19 17h2v1h-2zM22 17h1v1h-1zM26 17h1v1h-1zM3 18h1v1h-1zM5 18h2v1h-2zM8 18h1v1h-1zM11 18h1v1h-1zM13 18h2v1h-2zM16 18h1v1h-1zM19 18h1v1h-1zM23 18h1v1h-1zM26 18h3v1h-3zM0 19h1v1h-1zM3 19h1v1h-1zM12 19h1v1h-1zM16 19h1v1h-1zM18 19h7v1h-7zM27 19h1v1h-1zM0 20h2v1h-2zM3 20h2v1h-2zM6 20h3v1h-3zM11 20h3v1h-3zM15 20h14v1h-14zM8 21h3v1h-3zM12 21h3v1h-3zM16 21h1v1h-1zM18 21h1v1h-1zM20 21h1v1h-1zM24 21h3v1h-3zM0 22h7v1h-7zM9 22h1v1h-1zM11 22h1v1h-1zM15 22h2v1h-2zM19 22h2v1h-2zM22 22h1v1h-1zM24 22h1v1h-1zM27 22h1v1h-1zM0 23h1v1h-1zM6 23h1v1h-1zM8 23h3v1h-3zM14 23h3v1h-3zM18 23h3v1h-3zM24 23h1v1h-1zM28 23h1v1h-1zM0 24h1v1h-1zM2 24h3v1h-3zM6 24h1v1h-1zM9 24h2v1h-2zM12 24h3v1h-3zM17 24h2v1h-2zM20 24h5v1h-5zM27 24h2v1h-2zM0 25h1v1h-1zM2 25h3v1h-3zM6 25h1v1h-1zM8 25h2v1h-2zM15 25h1v1h-1zM17 25h2v1h-2zM22 25h1v1h-1zM24 25h1v1h-1zM26 25h3v1h-3zM0 26h1v1h-1zM2 26h3v1h-3zM6 26h1v1h-1zM9 26h5v1h-5zM21 26h1v1h-1zM25 26h1v1h-1zM27 26h1v1h-1zM0 27h1v1h-1zM6 27h1v1h-1zM9 27h1v1h-1zM11 27h3v1h-3zM16 27h6v1h-6zM27 27h2v1h-2zM0 28h7v1h-7zM10 28h2v1h-2zM13 28h2v1h-2zM17 28h3v1h-3zM21 28h1v1h-1zM25 28h4v1h-4z" fill="#000"/></svg>
<div style="position:absolute;left:0px;top:0px;width:828px;height:3px;background:#1c1c1e;"></div>
<div style="position:absolute;left:0px;top:0px;width:828px;height:1px;background:#000;"></div>
<div style="position:absolute;left:0px;top:0px;width:3px;height:618px;background:#1c1c1e;"></div>
<div style="position:absolute;left:825px;top:0px;width:3px;height:618px;background:#1c1c1e;"></div>
</div></body></html>
